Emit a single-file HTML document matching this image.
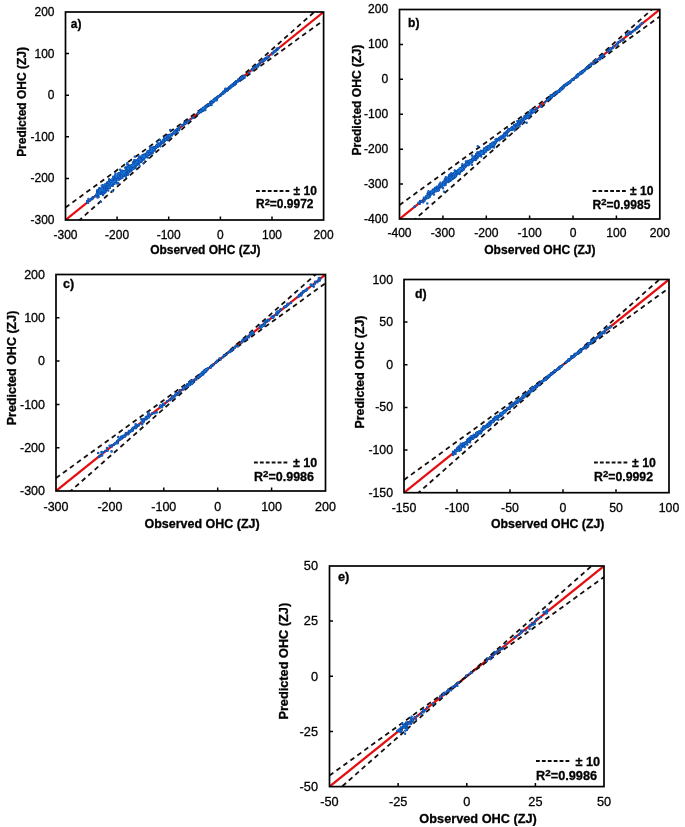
<!DOCTYPE html><html><head><meta charset="utf-8"><title>OHC predicted vs observed</title>
<style>html,body{margin:0;padding:0;background:#fff}body{width:685px;height:827px;overflow:hidden}svg{display:block}text{font-family:"Liberation Sans", sans-serif;fill:#000;stroke:#000;stroke-width:.3px}.b,.l{font-weight:bold}</style></head><body>
<svg width="685" height="827" viewBox="0 0 685 827">
<defs><filter id="soft" x="0" y="0" width="100%" height="100%" filterUnits="userSpaceOnUse"><feGaussianBlur stdDeviation="0.45"/></filter></defs>
<rect width="685" height="827" fill="#fff"/>
<g filter="url(#soft)">
<g id="panel-a">
<clipPath id="ca"><rect x="65.5" y="12" width="258.1" height="208"/></clipPath>
<g clip-path="url(#ca)">
<line x1="65.5" y1="220" x2="323.6" y2="12" stroke="#e50a0e" stroke-width="2.2"/>
<line x1="65.5" y1="207.5" x2="323.6" y2="20.3" stroke="#16100c" stroke-width="1.8" stroke-dasharray="4.8 3.8"/>
<line x1="65.5" y1="232.5" x2="323.6" y2="3.7" stroke="#16100c" stroke-width="1.8" stroke-dasharray="4.8 3.8"/>
<path d="M122.3 172.7h0M136 163.4h0M150.9 151h0M115.8 176.6h0M139.8 161.3h0M109 187.6h0M185.7 121.7h0M145.7 156.2h0M175.2 132.2h0M114 179.7h0M150.5 152.6h0M252.9 68.7h0M113.3 184.1h0M154.9 150.5h0M276.8 48.8h0M157.5 146.9h0M104.7 188.3h0M132.9 162.6h0M102.9 185.1h0M146.5 154.9h0M151.8 153.6h0M106.2 186.8h0M211.7 102.4h0M157.5 142.3h0M103 192.7h0M139.7 160.2h0M167.2 138.5h0M103 191.2h0M101.7 191.8h0M101.5 190.3h0M120.6 176.1h0M128.3 168.5h0M128.9 170.6h0M198.9 112.2h0M121.6 177.8h0M236.8 82h0M104.8 192.4h0M205 107.6h0M203 109.4h0M275.9 50.3h0M136.9 162.8h0M237.2 81.3h0M87.3 202h0M97 191.3h0M142.2 157.2h0M108.9 182.9h0M258.5 65.1h0M112.6 182.8h0M133.6 164h0M161 142.2h0M162.9 142.3h0M232.3 86h0M223.5 92.2h0M118.8 176.9h0M215 100h0M152.8 153.1h0M184.7 123.1h0M126.3 171h0M199.5 111.6h0M224.4 91.8h0M244.5 77.8h0M97.5 197.4h0M214.7 99.4h0M125 167.6h0M177.8 129.4h0M128.5 164.9h0M216.9 97.2h0M107.8 186.4h0M167 138.7h0M107.1 182.7h0M141.2 157.2h0M233.4 84.9h0M239.4 80.5h0M198.4 112.4h0M225.5 91h0M118.7 174h0M141.2 161.7h0M164.3 140.8h0M139.8 160.4h0M105.2 188.7h0M103.5 187.9h0M138.2 160.1h0M262.6 61.3h0M207.7 105.6h0M234.6 84.7h0M179.3 128.6h0M200.3 110.5h0M130.7 166.1h0M204.7 107.7h0M96.7 195h0M172 134.1h0M146.7 155.4h0M234 84.1h0M115.7 181.8h0M149.5 151.3h0M177.3 128.8h0M137.9 163.1h0M129.1 165.9h0M142.5 160.1h0M241.8 78.1h0M241 79.2h0M112.8 180.3h0M121.1 173.6h0M200.5 110.9h0M125.9 177.2h0M146.3 154.2h0M204.6 107.1h0M124.1 175.9h0M131.6 167.9h0M224.2 91.8h0M203.4 109.8h0M224.9 91.3h0M102.8 191.6h0M168.2 137.7h0M166.5 136.5h0M96.5 195.9h0M150.2 150.3h0M213.1 102.3h0M102.9 185.8h0M147.4 154.1h0M114.5 183.7h0M133.4 165.8h0M203 110.5h0M88.4 199h0M209.2 104.6h0M111.8 183h0M161.6 143.2h0M147.2 154.3h0M105.7 188.3h0M162.7 140.6h0M167.7 138.3h0M211.7 102h0M152.2 152.3h0M102.1 189.5h0M150.4 152.1h0M119.8 175.8h0M167 138.5h0M135.1 164.7h0M104.5 189.9h0M99 189.8h0M113.9 182.5h0M148.6 151.7h0M232.3 85.6h0M230 87.6h0M109.3 185h0M210 105h0M107.6 186.1h0M101.7 185.6h0M242.8 78.3h0M200.8 110.6h0M135.8 166.8h0M266.1 58.2h0M144.3 157.1h0M147.5 153.5h0M268.8 56.8h0M98.2 194.2h0M114 180.9h0M141.1 157.9h0M163.5 139.8h0M221.2 95h0M166.8 136.4h0M151.3 153.3h0M206.9 106.3h0M137.5 163.7h0M208.2 105.3h0M220.9 95.6h0M198.6 113.2h0M273.3 52.9h0M131 166.7h0M179 128.6h0M144.1 156.4h0M200.7 112h0M115.6 179.1h0M123 173.1h0M98.3 194.9h0M135.2 168.1h0M258.1 66.5h0M213 100.9h0M145.1 155.8h0M129.5 171.7h0M265.8 58.3h0M140.3 158.8h0M238.2 79.6h0M211.9 101.7h0M107.2 186.3h0M272.7 53h0M127.5 173.4h0M230.7 87h0M135 161.6h0M122.5 174.1h0M235.8 83.5h0M113.2 181.6h0M144.8 156.3h0M178.8 129.1h0M126.4 175.1h0M163.5 140h0M225.3 90.3h0M123.1 173h0M127.4 169.8h0M182 124.9h0M98.1 194.1h0M229.6 86.8h0M213.7 101.7h0M151.3 149.9h0M217 97.7h0M147.6 154.6h0M134.5 166h0M266.7 58.7h0M235.2 82.3h0M214.1 99.9h0M108 187.6h0M167.5 140.1h0M110.8 185.3h0" stroke="#0a45a6" stroke-width="2.4" stroke-linecap="round" fill="none"/>
<path d="M122.3 172.7h0M136 163.4h0M150.9 151h0M115.8 176.6h0M139.8 161.3h0M109 187.6h0M185.7 121.7h0M145.7 156.2h0M175.2 132.2h0M114 179.7h0M150.5 152.6h0M252.9 68.7h0M113.3 184.1h0M154.9 150.5h0M276.8 48.8h0M157.5 146.9h0M104.7 188.3h0M132.9 162.6h0M102.9 185.1h0M146.5 154.9h0M151.8 153.6h0M106.2 186.8h0M211.7 102.4h0M157.5 142.3h0M103 192.7h0M139.7 160.2h0M167.2 138.5h0M103 191.2h0M101.7 191.8h0M101.5 190.3h0M120.6 176.1h0M128.3 168.5h0M128.9 170.6h0M198.9 112.2h0M121.6 177.8h0M236.8 82h0M104.8 192.4h0M205 107.6h0M203 109.4h0M275.9 50.3h0M136.9 162.8h0M237.2 81.3h0M87.3 202h0M97 191.3h0M142.2 157.2h0M108.9 182.9h0M258.5 65.1h0M112.6 182.8h0M133.6 164h0M161 142.2h0M162.9 142.3h0M232.3 86h0M223.5 92.2h0M118.8 176.9h0M215 100h0M152.8 153.1h0M184.7 123.1h0M126.3 171h0M199.5 111.6h0M224.4 91.8h0M244.5 77.8h0M97.5 197.4h0M214.7 99.4h0M125 167.6h0M177.8 129.4h0M128.5 164.9h0M216.9 97.2h0M107.8 186.4h0M167 138.7h0M107.1 182.7h0M141.2 157.2h0M233.4 84.9h0M239.4 80.5h0M198.4 112.4h0M225.5 91h0M118.7 174h0M141.2 161.7h0M164.3 140.8h0M139.8 160.4h0M105.2 188.7h0M103.5 187.9h0M138.2 160.1h0M262.6 61.3h0M207.7 105.6h0M234.6 84.7h0M179.3 128.6h0M200.3 110.5h0M130.7 166.1h0M204.7 107.7h0M96.7 195h0M172 134.1h0M146.7 155.4h0M234 84.1h0M115.7 181.8h0M149.5 151.3h0M177.3 128.8h0M137.9 163.1h0M129.1 165.9h0M142.5 160.1h0M241.8 78.1h0M241 79.2h0M112.8 180.3h0M121.1 173.6h0M200.5 110.9h0M125.9 177.2h0M146.3 154.2h0M204.6 107.1h0M124.1 175.9h0M131.6 167.9h0M224.2 91.8h0M203.4 109.8h0M224.9 91.3h0M102.8 191.6h0M168.2 137.7h0M166.5 136.5h0M96.5 195.9h0M150.2 150.3h0M213.1 102.3h0M102.9 185.8h0M147.4 154.1h0M114.5 183.7h0M133.4 165.8h0M203 110.5h0M88.4 199h0M209.2 104.6h0M111.8 183h0M161.6 143.2h0M147.2 154.3h0M105.7 188.3h0M162.7 140.6h0M167.7 138.3h0M211.7 102h0M152.2 152.3h0M102.1 189.5h0M150.4 152.1h0M119.8 175.8h0M167 138.5h0M135.1 164.7h0M104.5 189.9h0M99 189.8h0M113.9 182.5h0M148.6 151.7h0M232.3 85.6h0M230 87.6h0M109.3 185h0M210 105h0M107.6 186.1h0M101.7 185.6h0M242.8 78.3h0M200.8 110.6h0M135.8 166.8h0M266.1 58.2h0M144.3 157.1h0M147.5 153.5h0M268.8 56.8h0M98.2 194.2h0M114 180.9h0M141.1 157.9h0M163.5 139.8h0M221.2 95h0M166.8 136.4h0M151.3 153.3h0M206.9 106.3h0M137.5 163.7h0M208.2 105.3h0M220.9 95.6h0M198.6 113.2h0M273.3 52.9h0M131 166.7h0M179 128.6h0M144.1 156.4h0M200.7 112h0M115.6 179.1h0M123 173.1h0M98.3 194.9h0M135.2 168.1h0M258.1 66.5h0M213 100.9h0M145.1 155.8h0M129.5 171.7h0M265.8 58.3h0M140.3 158.8h0M238.2 79.6h0M211.9 101.7h0M107.2 186.3h0M272.7 53h0M127.5 173.4h0M230.7 87h0M135 161.6h0M122.5 174.1h0M235.8 83.5h0M113.2 181.6h0M144.8 156.3h0M178.8 129.1h0M126.4 175.1h0M163.5 140h0M225.3 90.3h0M123.1 173h0M127.4 169.8h0M182 124.9h0M98.1 194.1h0M229.6 86.8h0M213.7 101.7h0M151.3 149.9h0M217 97.7h0M147.6 154.6h0M134.5 166h0M266.7 58.7h0M235.2 82.3h0M214.1 99.9h0M108 187.6h0M167.5 140.1h0M110.8 185.3h0" stroke="#1678d8" stroke-width="1.5" stroke-linecap="round" fill="none"/>
<path d="M103.2 188.6h0M103.6 190.1h0M139.2 159.6h0M113.8 178.3h0M105.4 191.6h0M152.5 150.5h0M244.1 76h0M123.9 174h0M99.2 188.3h0M274.8 51h0M148.1 152.9h0M109.3 180.8h0M232.8 85.8h0M171.1 134.7h0M115.6 180.4h0M211.6 103h0M244.3 75.9h0M140.2 161.5h0M228.9 88h0M210.9 101.7h0M113.4 179.8h0M128.2 172.2h0M115.7 176.2h0M156.5 146.6h0M220.6 95.1h0M96.9 194.2h0M126.7 170.7h0M205.6 107.8h0M272 53.6h0M119.6 175.8h0M174.3 133.2h0M132.2 169.2h0M143.7 156.8h0M111.2 183.8h0M139.6 160.6h0M160.9 143.5h0M235.3 83.8h0M117.7 177.6h0M225.7 90.1h0M140.6 160.1h0M122.9 174.5h0M164.9 139.1h0M123.9 173.8h0M106.3 184.3h0M105.6 184.7h0M243.3 75.7h0M171.5 135.1h0M255.6 66.2h0M201.4 110.8h0M102.8 190.3h0M265.6 57.9h0M100.7 201.9h0M155.6 146.8h0M179.1 129.2h0M104.3 189.1h0M107.5 185h0M147.3 154.7h0M216.1 97.9h0M118.8 178.3h0M200.2 111.9h0M144.1 159.5h0M103 187.2h0M233.9 84.7h0M99.2 191.7h0M102.6 190h0M104.2 191.2h0M204.7 108h0M131.7 167.7h0M227.2 88.7h0M138.2 162.4h0M138 163.9h0M167.3 139.1h0M203.3 107.9h0M109.8 182.4h0M131.5 166.3h0M129 167.7h0M149.5 152.2h0M160.4 146.3h0M277.7 49.6h0M144.1 157.5h0M197.9 113.3h0M170.2 134.7h0M199.8 112h0M130 166.7h0M155.9 147.8h0M103 189.9h0M184.4 124.4h0M120 175.9h0M157.1 145.5h0M132.3 166.2h0M128.5 170.1h0M202.2 109.9h0M126.4 173.3h0M165.1 139h0M121.4 174h0M262.8 61.4h0M118.2 182.9h0M132 167.6h0M150.1 153h0M263.6 60.2h0M106 187.3h0M114.7 180.1h0M209.6 104.7h0M226 91h0M106.7 189.4h0M141.8 157.1h0M131.3 167h0M240.3 79.5h0M177.1 132.4h0M104.4 188.4h0M139.8 160.6h0M186.6 122.5h0M214 99.6h0M103 189h0M95.1 196.2h0M122.5 170.8h0M140.4 158.6h0M238.7 80.9h0M163.2 140.9h0M136.8 161.6h0M115.9 180.1h0M227.5 90.2h0M216.4 98.8h0M139.6 165.9h0M210.1 102.1h0M108 185.7h0M143.9 163.1h0M182.7 125.4h0M258.5 65.1h0M213.6 100.9h0M134.6 166.6h0M110.8 183.2h0M106.8 187.9h0M148 153.8h0M119.3 173.7h0M217.8 97h0M107.7 185.9h0M167.5 137.8h0M161.7 143.2h0M249.3 72.6h0M103.4 192.4h0M105.7 189.1h0M229.4 87.1h0M156.2 145.6h0M177 131.2h0M154.9 147h0M104 192.8h0M224.1 92.1h0M263.5 61.3h0M241.7 79.1h0M109.7 188.1h0M134.4 167.2h0M238.6 79.5h0M168.4 135.8h0M108.5 182.2h0M153.4 148h0M135.3 162.9h0M106.9 184.3h0M205.5 107.7h0M113.3 176.8h0M175.9 131.4h0M98.5 191.7h0M134.8 162.1h0M105.8 186.5h0M142.3 157.2h0M115.5 179h0M116.2 181.8h0M108 188.5h0M133.4 167.8h0M92.8 197.3h0M257.9 65.1h0M151.5 148.8h0M121.9 175.8h0M142.3 157.1h0M99.3 189.8h0M264.4 60.5h0M103.3 187.4h0M126 167.4h0M112.8 184.8h0M128.6 168.2h0M259.3 63.5h0M91.9 199.2h0M107.2 189.9h0M205.6 107.4h0M265.3 58.6h0M118.8 173.1h0M131.5 165.5h0M188.3 121.3h0M152.3 151.1h0M222.2 93.6h0M103.2 191.6h0M112.6 181h0M148.5 153.8h0M147.4 153.9h0M112.5 185.8h0M201.6 109.6h0M145.7 155.9h0M134.3 165.3h0M214.7 99.7h0M118.5 178.5h0M116.9 179.1h0M127.4 168.5h0M158.3 145.3h0M113.1 179.7h0M258.6 64.3h0M110.9 184.8h0M251.9 69.3h0M122.4 177.8h0M115.2 177.6h0M224.3 91.9h0M210.5 103.6h0M218.3 96.8h0M225.7 91h0" stroke="#0a45a6" stroke-width="2.4" stroke-linecap="round" fill="none"/>
<path d="M103.2 188.6h0M103.6 190.1h0M139.2 159.6h0M113.8 178.3h0M105.4 191.6h0M152.5 150.5h0M244.1 76h0M123.9 174h0M99.2 188.3h0M274.8 51h0M148.1 152.9h0M109.3 180.8h0M232.8 85.8h0M171.1 134.7h0M115.6 180.4h0M211.6 103h0M244.3 75.9h0M140.2 161.5h0M228.9 88h0M210.9 101.7h0M113.4 179.8h0M128.2 172.2h0M115.7 176.2h0M156.5 146.6h0M220.6 95.1h0M96.9 194.2h0M126.7 170.7h0M205.6 107.8h0M272 53.6h0M119.6 175.8h0M174.3 133.2h0M132.2 169.2h0M143.7 156.8h0M111.2 183.8h0M139.6 160.6h0M160.9 143.5h0M235.3 83.8h0M117.7 177.6h0M225.7 90.1h0M140.6 160.1h0M122.9 174.5h0M164.9 139.1h0M123.9 173.8h0M106.3 184.3h0M105.6 184.7h0M243.3 75.7h0M171.5 135.1h0M255.6 66.2h0M201.4 110.8h0M102.8 190.3h0M265.6 57.9h0M100.7 201.9h0M155.6 146.8h0M179.1 129.2h0M104.3 189.1h0M107.5 185h0M147.3 154.7h0M216.1 97.9h0M118.8 178.3h0M200.2 111.9h0M144.1 159.5h0M103 187.2h0M233.9 84.7h0M99.2 191.7h0M102.6 190h0M104.2 191.2h0M204.7 108h0M131.7 167.7h0M227.2 88.7h0M138.2 162.4h0M138 163.9h0M167.3 139.1h0M203.3 107.9h0M109.8 182.4h0M131.5 166.3h0M129 167.7h0M149.5 152.2h0M160.4 146.3h0M277.7 49.6h0M144.1 157.5h0M197.9 113.3h0M170.2 134.7h0M199.8 112h0M130 166.7h0M155.9 147.8h0M103 189.9h0M184.4 124.4h0M120 175.9h0M157.1 145.5h0M132.3 166.2h0M128.5 170.1h0M202.2 109.9h0M126.4 173.3h0M165.1 139h0M121.4 174h0M262.8 61.4h0M118.2 182.9h0M132 167.6h0M150.1 153h0M263.6 60.2h0M106 187.3h0M114.7 180.1h0M209.6 104.7h0M226 91h0M106.7 189.4h0M141.8 157.1h0M131.3 167h0M240.3 79.5h0M177.1 132.4h0M104.4 188.4h0M139.8 160.6h0M186.6 122.5h0M214 99.6h0M103 189h0M95.1 196.2h0M122.5 170.8h0M140.4 158.6h0M238.7 80.9h0M163.2 140.9h0M136.8 161.6h0M115.9 180.1h0M227.5 90.2h0M216.4 98.8h0M139.6 165.9h0M210.1 102.1h0M108 185.7h0M143.9 163.1h0M182.7 125.4h0M258.5 65.1h0M213.6 100.9h0M134.6 166.6h0M110.8 183.2h0M106.8 187.9h0M148 153.8h0M119.3 173.7h0M217.8 97h0M107.7 185.9h0M167.5 137.8h0M161.7 143.2h0M249.3 72.6h0M103.4 192.4h0M105.7 189.1h0M229.4 87.1h0M156.2 145.6h0M177 131.2h0M154.9 147h0M104 192.8h0M224.1 92.1h0M263.5 61.3h0M241.7 79.1h0M109.7 188.1h0M134.4 167.2h0M238.6 79.5h0M168.4 135.8h0M108.5 182.2h0M153.4 148h0M135.3 162.9h0M106.9 184.3h0M205.5 107.7h0M113.3 176.8h0M175.9 131.4h0M98.5 191.7h0M134.8 162.1h0M105.8 186.5h0M142.3 157.2h0M115.5 179h0M116.2 181.8h0M108 188.5h0M133.4 167.8h0M92.8 197.3h0M257.9 65.1h0M151.5 148.8h0M121.9 175.8h0M142.3 157.1h0M99.3 189.8h0M264.4 60.5h0M103.3 187.4h0M126 167.4h0M112.8 184.8h0M128.6 168.2h0M259.3 63.5h0M91.9 199.2h0M107.2 189.9h0M205.6 107.4h0M265.3 58.6h0M118.8 173.1h0M131.5 165.5h0M188.3 121.3h0M152.3 151.1h0M222.2 93.6h0M103.2 191.6h0M112.6 181h0M148.5 153.8h0M147.4 153.9h0M112.5 185.8h0M201.6 109.6h0M145.7 155.9h0M134.3 165.3h0M214.7 99.7h0M118.5 178.5h0M116.9 179.1h0M127.4 168.5h0M158.3 145.3h0M113.1 179.7h0M258.6 64.3h0M110.9 184.8h0M251.9 69.3h0M122.4 177.8h0M115.2 177.6h0M224.3 91.9h0M210.5 103.6h0M218.3 96.8h0M225.7 91h0" stroke="#1678d8" stroke-width="1.5" stroke-linecap="round" fill="none"/>
<path d="M252.9 68.6h0M211 103.4h0M146 155.4h0M168.7 137.4h0M100.6 188.8h0M217.8 96.5h0M123.9 172.9h0M149 152.6h0M213.6 100.7h0M115.3 175.4h0M133.4 162.2h0M122.3 174.6h0M144.4 155.3h0M126.2 171.2h0M134.5 168.1h0M145.1 156.7h0M148.8 153.7h0M166.5 138.5h0M100.5 192.7h0M118.7 174h0M114.8 178.6h0M212.9 101h0M185.3 122.8h0M230 88.2h0M106 190.6h0M151.2 149.5h0M105.2 191.3h0M145.3 156.9h0M236.2 81.3h0M115.7 179.3h0M261.9 62h0M149.9 149.2h0M157.2 146.1h0M100 189.8h0M150.5 147h0M230.1 86.7h0M137.2 164.4h0M112.1 181.3h0M130.7 168.8h0M124.3 173.5h0M157.8 146.4h0M153.2 150.2h0M114.1 180.7h0M223.2 93.7h0M105.2 189.8h0M125.5 173.7h0M212.9 101.1h0M131.4 168.4h0M120.6 172.6h0M174.8 131.2h0M104.7 192.4h0M217.9 97.2h0M122.2 175.7h0M128 167.7h0M112.6 182.2h0M253.3 68.7h0M159.9 140h0M142.7 155.3h0M214.6 98.7h0M210.5 103.8h0M179 130.2h0M128.1 169.7h0M103.1 195h0M123.5 174.7h0M130.8 165.7h0M151.5 150.6h0M131.1 168.2h0M147.8 153.9h0M134 163.1h0M212.8 101.1h0M238.5 80.6h0M224 91.6h0M219.2 96h0M134.9 162.7h0M103.7 189.9h0M104.7 186.4h0M149.5 154.7h0M241.7 77.3h0M104.8 189.3h0M126.3 172.7h0M207.5 104.9h0M134.7 166.1h0M103.2 190.8h0M176.6 130.1h0M149.1 154.3h0M160.8 144.2h0M152.1 148.7h0M155.9 148.1h0M127.8 166.1h0M137.8 162h0M129.1 170.6h0M140.8 159.9h0M213 101.5h0M262.7 61.2h0M109.8 183.8h0M140.9 159h0M123.1 172.6h0M168.6 137.9h0M121.5 175.8h0M146.3 155h0M136.3 162h0M103 192.6h0M117 179.2h0M107.5 185.3h0M234.1 84.4h0M126.6 168.3h0M272.3 53.4h0M139.3 159.7h0M192.9 118.1h0M127.3 164.5h0M126.7 168.6h0M161.6 142.4h0M199.9 110.9h0M137.1 163.2h0M118.3 175.6h0M227.4 90.3h0M147.4 155.8h0M119.8 178.8h0M169.6 137h0M154.7 149.9h0M164 142.1h0M199 112.7h0M139.2 163.6h0M257.2 66h0M135.8 163.5h0M265.5 58.9h0M160 143.5h0M114.4 179.7h0M255.4 66.8h0M118.2 176.7h0M109.5 184.5h0M104.9 191.3h0M277.1 49.1h0M208.8 105.3h0M217 98h0M127.5 170h0M231.8 85.5h0M109.8 180.7h0M205.6 107.6h0M172.1 135.3h0M189.7 119.7h0M107.6 184.5h0M233.3 84.4h0M148.1 154.2h0M126.8 171.7h0M112.4 181.6h0M225.3 88.8h0M87.2 201h0M108.3 190.6h0M137.2 162.2h0M151.4 152.3h0M256.6 65.6h0M199.5 112.3h0M176.7 130.9h0M223.5 92.2h0M234.1 84h0M198 113.8h0M210.9 103.9h0M232.6 84.5h0M244 77.5h0M228 89.5h0M134.2 160.2h0M110 183h0M107.1 186.3h0M150.4 151.3h0M199 112.7h0M133.1 168.7h0M130.6 167.1h0M200.5 110.6h0M148 154.3h0M131.4 169.6h0M144.5 156.4h0M146.7 153.2h0M142.4 158.4h0M114.1 182.5h0M137.5 161.7h0M111.8 184.4h0M213.8 100.9h0M163.4 140.6h0M135.7 160.6h0M178.9 128.7h0M152.7 148.8h0M148.3 153h0M231.3 87.2h0M141.7 160.9h0M108.2 183.8h0M210 103.5h0M97.6 191.2h0M105.2 188.9h0M167.6 135.3h0M106.9 189.4h0M107.8 187h0M150.3 154.3h0M259.5 64h0M97.8 194.2h0M220.5 94.7h0M128.5 172.4h0M173.9 132.8h0M136.9 164.7h0M110.8 182.9h0M162.7 142.1h0M110.5 183.7h0M151.1 149.5h0M100.6 190.4h0M108.8 186h0M103.8 188.3h0M127.5 169.1h0M110.4 185.4h0M106 189.2h0M229.5 88.3h0M135.1 165.9h0M116 176.9h0M124.7 173.9h0" stroke="#0a45a6" stroke-width="2.4" stroke-linecap="round" fill="none"/>
<path d="M252.9 68.6h0M211 103.4h0M146 155.4h0M168.7 137.4h0M100.6 188.8h0M217.8 96.5h0M123.9 172.9h0M149 152.6h0M213.6 100.7h0M115.3 175.4h0M133.4 162.2h0M122.3 174.6h0M144.4 155.3h0M126.2 171.2h0M134.5 168.1h0M145.1 156.7h0M148.8 153.7h0M166.5 138.5h0M100.5 192.7h0M118.7 174h0M114.8 178.6h0M212.9 101h0M185.3 122.8h0M230 88.2h0M106 190.6h0M151.2 149.5h0M105.2 191.3h0M145.3 156.9h0M236.2 81.3h0M115.7 179.3h0M261.9 62h0M149.9 149.2h0M157.2 146.1h0M100 189.8h0M150.5 147h0M230.1 86.7h0M137.2 164.4h0M112.1 181.3h0M130.7 168.8h0M124.3 173.5h0M157.8 146.4h0M153.2 150.2h0M114.1 180.7h0M223.2 93.7h0M105.2 189.8h0M125.5 173.7h0M212.9 101.1h0M131.4 168.4h0M120.6 172.6h0M174.8 131.2h0M104.7 192.4h0M217.9 97.2h0M122.2 175.7h0M128 167.7h0M112.6 182.2h0M253.3 68.7h0M159.9 140h0M142.7 155.3h0M214.6 98.7h0M210.5 103.8h0M179 130.2h0M128.1 169.7h0M103.1 195h0M123.5 174.7h0M130.8 165.7h0M151.5 150.6h0M131.1 168.2h0M147.8 153.9h0M134 163.1h0M212.8 101.1h0M238.5 80.6h0M224 91.6h0M219.2 96h0M134.9 162.7h0M103.7 189.9h0M104.7 186.4h0M149.5 154.7h0M241.7 77.3h0M104.8 189.3h0M126.3 172.7h0M207.5 104.9h0M134.7 166.1h0M103.2 190.8h0M176.6 130.1h0M149.1 154.3h0M160.8 144.2h0M152.1 148.7h0M155.9 148.1h0M127.8 166.1h0M137.8 162h0M129.1 170.6h0M140.8 159.9h0M213 101.5h0M262.7 61.2h0M109.8 183.8h0M140.9 159h0M123.1 172.6h0M168.6 137.9h0M121.5 175.8h0M146.3 155h0M136.3 162h0M103 192.6h0M117 179.2h0M107.5 185.3h0M234.1 84.4h0M126.6 168.3h0M272.3 53.4h0M139.3 159.7h0M192.9 118.1h0M127.3 164.5h0M126.7 168.6h0M161.6 142.4h0M199.9 110.9h0M137.1 163.2h0M118.3 175.6h0M227.4 90.3h0M147.4 155.8h0M119.8 178.8h0M169.6 137h0M154.7 149.9h0M164 142.1h0M199 112.7h0M139.2 163.6h0M257.2 66h0M135.8 163.5h0M265.5 58.9h0M160 143.5h0M114.4 179.7h0M255.4 66.8h0M118.2 176.7h0M109.5 184.5h0M104.9 191.3h0M277.1 49.1h0M208.8 105.3h0M217 98h0M127.5 170h0M231.8 85.5h0M109.8 180.7h0M205.6 107.6h0M172.1 135.3h0M189.7 119.7h0M107.6 184.5h0M233.3 84.4h0M148.1 154.2h0M126.8 171.7h0M112.4 181.6h0M225.3 88.8h0M87.2 201h0M108.3 190.6h0M137.2 162.2h0M151.4 152.3h0M256.6 65.6h0M199.5 112.3h0M176.7 130.9h0M223.5 92.2h0M234.1 84h0M198 113.8h0M210.9 103.9h0M232.6 84.5h0M244 77.5h0M228 89.5h0M134.2 160.2h0M110 183h0M107.1 186.3h0M150.4 151.3h0M199 112.7h0M133.1 168.7h0M130.6 167.1h0M200.5 110.6h0M148 154.3h0M131.4 169.6h0M144.5 156.4h0M146.7 153.2h0M142.4 158.4h0M114.1 182.5h0M137.5 161.7h0M111.8 184.4h0M213.8 100.9h0M163.4 140.6h0M135.7 160.6h0M178.9 128.7h0M152.7 148.8h0M148.3 153h0M231.3 87.2h0M141.7 160.9h0M108.2 183.8h0M210 103.5h0M97.6 191.2h0M105.2 188.9h0M167.6 135.3h0M106.9 189.4h0M107.8 187h0M150.3 154.3h0M259.5 64h0M97.8 194.2h0M220.5 94.7h0M128.5 172.4h0M173.9 132.8h0M136.9 164.7h0M110.8 182.9h0M162.7 142.1h0M110.5 183.7h0M151.1 149.5h0M100.6 190.4h0M108.8 186h0M103.8 188.3h0M127.5 169.1h0M110.4 185.4h0M106 189.2h0M229.5 88.3h0M135.1 165.9h0M116 176.9h0M124.7 173.9h0" stroke="#1678d8" stroke-width="1.5" stroke-linecap="round" fill="none"/>
<path d="M138.4 158.8h0M267.9 57.6h0M233.2 83.9h0M153.4 150.1h0M223.4 91.7h0M135.8 163h0M110 180.2h0M192.7 117.8h0M170.2 137.3h0M243.2 76.1h0M153.6 148.6h0M140.4 161.1h0M200.5 111.6h0M119.2 179.1h0M148.4 152.8h0M232.1 84.9h0M277.8 48.6h0M154.7 149.6h0M122.7 174.7h0M207.8 104.7h0M108 182.3h0M134.9 163.2h0M128.8 169.8h0M236.7 81.2h0M115.6 173.5h0M102.8 191.6h0M92.9 198.4h0M107.3 184.7h0M136.5 164.1h0M126.3 171.8h0M163.7 140.3h0M119.4 177.3h0M125.3 174.7h0M132.3 165h0M142.6 158.1h0M237.4 81h0M148 153.6h0M232.1 86h0M132.2 169.5h0M205 107.8h0M112.2 181.9h0M234.1 85.1h0M105.9 191.4h0M162.7 142.1h0M135 165.1h0M173.1 133.2h0M175.9 131.3h0M175.7 130.3h0M216.4 99h0M272.5 52.9h0M208.7 104.6h0M110.5 182.7h0M103.2 190.6h0M136 164.3h0M241.1 78.5h0M201.2 110.4h0M88.1 202.8h0M167.7 136.1h0M223.4 91.8h0M137 162.8h0M216.9 97.6h0M146.4 153.6h0M174.3 132.7h0M108.2 186.1h0M235.9 82.9h0M225.9 89.9h0M148.4 151.7h0M139.7 159.6h0M103.3 190.5h0M159.8 144.1h0M206.5 105.8h0M115.5 178.6h0M165.2 139.5h0M109.2 183.7h0M112.6 191.3h0M120.2 169.8h0M208.3 104.4h0M117.1 183.6h0M138.9 156.5h0M179.3 127.2h0M123 171.9h0M156.5 146.3h0M211.9 102h0M143 158.6h0M128.3 168.3h0M110.1 186.2h0M211.3 101.8h0M136.2 160.5h0M209.7 104.3h0M124.2 174.5h0M241.3 78.5h0M122.9 172.4h0M206.4 106.9h0M128 170h0M218.5 96.6h0M101 193.9h0M103.7 187.4h0M119.1 176.3h0M111.1 181.1h0M153.7 149.8h0M138.6 161h0M106.4 188.6h0M233.6 84.9h0M109.8 186.3h0M143.3 156.2h0M175.3 132.6h0M226 90.9h0M125.4 170.7h0M104.7 186.5h0M99.1 192.4h0M221.2 94.2h0M111.2 182.7h0M149.7 152.4h0M134.6 162.4h0M114.5 181.8h0M144.3 157.6h0M108.2 186.1h0M128.1 174.2h0M105.6 185h0M153.5 146.9h0M140.3 158.6h0M104.4 185.9h0M127.3 163.2h0M212.2 102h0M142.4 158.8h0M166.3 138.8h0M106 191.4h0M237.1 82h0M147.4 151.5h0M158.4 145.1h0M102.9 189.4h0M157.4 146.3h0M107.8 185.2h0M244.3 76.5h0M132 167.9h0M134.6 166.6h0M108.3 183.8h0M108 185.8h0M113.9 182.3h0M205 106.8h0M163.9 141.6h0M166.6 139.3h0M149.6 151.5h0M110.1 184.1h0M157.4 145.4h0M98 196.9h0M232.5 85.7h0M102.3 188.9h0M218 97.1h0M147.9 153.5h0M205.4 107.4h0M87.2 202.6h0M152.8 151.1h0M125.8 168.4h0M225.9 91h0M213.7 101h0M215.1 100h0M237.7 81.2h0M98.6 197h0M115.2 178.4h0M130.9 171.3h0M100.5 189.2h0M175.2 133.3h0M102.7 191.2h0M148.7 154.4h0M144.2 154.4h0M121 176.6h0M139.7 158.9h0M261.7 61.7h0M133.7 167.6h0M167.6 137.9h0M134.2 165.2h0M155.9 148h0M117.9 178.3h0M145.6 157.3h0M112.8 180.6h0M165.1 140.8h0M221.9 93.5h0M142.5 158.4h0M227.5 89.5h0M231.3 86.2h0M105.5 183.9h0M136.4 162.8h0M145.2 156.4h0M184.2 123.2h0M215.5 98.6h0M220.3 95.3h0M133.8 168.4h0M109.2 185.3h0M115.3 179.3h0M129.9 165.9h0M166.6 139.8h0M167.1 138.4h0M174.1 132.4h0M148.9 152h0M109.4 184.1h0M122.2 176.2h0M110.2 180.2h0M215.9 98.7h0M203 108.6h0M203.8 110.2h0M166.7 138.2h0M201.6 110.9h0M211.6 105.1h0M205.3 110h0M147.4 153.5h0M97.1 191.9h0M110.5 184.4h0M112 184.7h0M120.3 173.8h0M143.7 158h0M99.7 192.6h0M172.7 133.4h0" stroke="#0a45a6" stroke-width="2.4" stroke-linecap="round" fill="none"/>
<path d="M138.4 158.8h0M267.9 57.6h0M233.2 83.9h0M153.4 150.1h0M223.4 91.7h0M135.8 163h0M110 180.2h0M192.7 117.8h0M170.2 137.3h0M243.2 76.1h0M153.6 148.6h0M140.4 161.1h0M200.5 111.6h0M119.2 179.1h0M148.4 152.8h0M232.1 84.9h0M277.8 48.6h0M154.7 149.6h0M122.7 174.7h0M207.8 104.7h0M108 182.3h0M134.9 163.2h0M128.8 169.8h0M236.7 81.2h0M115.6 173.5h0M102.8 191.6h0M92.9 198.4h0M107.3 184.7h0M136.5 164.1h0M126.3 171.8h0M163.7 140.3h0M119.4 177.3h0M125.3 174.7h0M132.3 165h0M142.6 158.1h0M237.4 81h0M148 153.6h0M232.1 86h0M132.2 169.5h0M205 107.8h0M112.2 181.9h0M234.1 85.1h0M105.9 191.4h0M162.7 142.1h0M135 165.1h0M173.1 133.2h0M175.9 131.3h0M175.7 130.3h0M216.4 99h0M272.5 52.9h0M208.7 104.6h0M110.5 182.7h0M103.2 190.6h0M136 164.3h0M241.1 78.5h0M201.2 110.4h0M88.1 202.8h0M167.7 136.1h0M223.4 91.8h0M137 162.8h0M216.9 97.6h0M146.4 153.6h0M174.3 132.7h0M108.2 186.1h0M235.9 82.9h0M225.9 89.9h0M148.4 151.7h0M139.7 159.6h0M103.3 190.5h0M159.8 144.1h0M206.5 105.8h0M115.5 178.6h0M165.2 139.5h0M109.2 183.7h0M112.6 191.3h0M120.2 169.8h0M208.3 104.4h0M117.1 183.6h0M138.9 156.5h0M179.3 127.2h0M123 171.9h0M156.5 146.3h0M211.9 102h0M143 158.6h0M128.3 168.3h0M110.1 186.2h0M211.3 101.8h0M136.2 160.5h0M209.7 104.3h0M124.2 174.5h0M241.3 78.5h0M122.9 172.4h0M206.4 106.9h0M128 170h0M218.5 96.6h0M101 193.9h0M103.7 187.4h0M119.1 176.3h0M111.1 181.1h0M153.7 149.8h0M138.6 161h0M106.4 188.6h0M233.6 84.9h0M109.8 186.3h0M143.3 156.2h0M175.3 132.6h0M226 90.9h0M125.4 170.7h0M104.7 186.5h0M99.1 192.4h0M221.2 94.2h0M111.2 182.7h0M149.7 152.4h0M134.6 162.4h0M114.5 181.8h0M144.3 157.6h0M108.2 186.1h0M128.1 174.2h0M105.6 185h0M153.5 146.9h0M140.3 158.6h0M104.4 185.9h0M127.3 163.2h0M212.2 102h0M142.4 158.8h0M166.3 138.8h0M106 191.4h0M237.1 82h0M147.4 151.5h0M158.4 145.1h0M102.9 189.4h0M157.4 146.3h0M107.8 185.2h0M244.3 76.5h0M132 167.9h0M134.6 166.6h0M108.3 183.8h0M108 185.8h0M113.9 182.3h0M205 106.8h0M163.9 141.6h0M166.6 139.3h0M149.6 151.5h0M110.1 184.1h0M157.4 145.4h0M98 196.9h0M232.5 85.7h0M102.3 188.9h0M218 97.1h0M147.9 153.5h0M205.4 107.4h0M87.2 202.6h0M152.8 151.1h0M125.8 168.4h0M225.9 91h0M213.7 101h0M215.1 100h0M237.7 81.2h0M98.6 197h0M115.2 178.4h0M130.9 171.3h0M100.5 189.2h0M175.2 133.3h0M102.7 191.2h0M148.7 154.4h0M144.2 154.4h0M121 176.6h0M139.7 158.9h0M261.7 61.7h0M133.7 167.6h0M167.6 137.9h0M134.2 165.2h0M155.9 148h0M117.9 178.3h0M145.6 157.3h0M112.8 180.6h0M165.1 140.8h0M221.9 93.5h0M142.5 158.4h0M227.5 89.5h0M231.3 86.2h0M105.5 183.9h0M136.4 162.8h0M145.2 156.4h0M184.2 123.2h0M215.5 98.6h0M220.3 95.3h0M133.8 168.4h0M109.2 185.3h0M115.3 179.3h0M129.9 165.9h0M166.6 139.8h0M167.1 138.4h0M174.1 132.4h0M148.9 152h0M109.4 184.1h0M122.2 176.2h0M110.2 180.2h0M215.9 98.7h0M203 108.6h0M203.8 110.2h0M166.7 138.2h0M201.6 110.9h0M211.6 105.1h0M205.3 110h0M147.4 153.5h0M97.1 191.9h0M110.5 184.4h0M112 184.7h0M120.3 173.8h0M143.7 158h0M99.7 192.6h0M172.7 133.4h0" stroke="#1678d8" stroke-width="1.5" stroke-linecap="round" fill="none"/>
<path d="M220 95.2h0M102.4 189.6h0M122.6 173.9h0M98.4 194.1h0M108.2 187.9h0M181.9 125.6h0M202.9 108h0M111.2 184.7h0M256.4 67h0M97.3 190.3h0M237.4 81.9h0M113.7 182.3h0M151.4 149.6h0M278.7 47.9h0M101.5 188.5h0M165.1 139.5h0M139.8 159.5h0M175.4 131.9h0M162.9 141h0M223 93.9h0M108 187.2h0M263.1 59.5h0M123.2 172.9h0M162.7 142.9h0M152.3 151.8h0M168.9 135h0M109.8 187h0M126.9 170.3h0M272.3 54.2h0M121.3 177.6h0M137 161h0M217.3 98.1h0M113.8 182.9h0M131.5 165.8h0M106.3 189.6h0M99.5 194.1h0M133.5 165.4h0M164.1 137.7h0M148.7 151.3h0M187.5 121.9h0M121.7 173h0M242.2 78h0M121.7 173.5h0M152.1 150.9h0M240.8 78.7h0M118.5 175.7h0M130.7 166.9h0M103 190.8h0M133.1 165h0M133.1 166.7h0M96.9 193.8h0M223.2 92.4h0M144.1 155h0M115.2 181.3h0M237.8 81h0M136.5 162.1h0M209.6 104.8h0M121.3 172.2h0M144.8 156h0M231.6 84.9h0M128.5 172.2h0M227.1 90h0M101.2 190h0M110.6 181.5h0M204.3 108.7h0M240.8 78.2h0M136.8 164.7h0M137.3 162.5h0M175 132.2h0M100.7 189.9h0M134.7 156.6h0M143.5 157.1h0M121.1 171h0M100.1 191.3h0M115 180.5h0M107.8 182.2h0M163.7 141.4h0M215 99.5h0M138.8 159h0M121.2 178.3h0M143.8 157.1h0M142.9 156.7h0M140.5 160.2h0M242.4 77.7h0M142.1 155.8h0M142 156.3h0M141.5 156h0M139.2 160.1h0M137.7 162.7h0M111.8 181.4h0M99 190.8h0M252.3 70.3h0M267.8 56.4h0M216.8 100.2h0M202.8 109.5h0M92.3 197.9h0M133 166.6h0M144 156.3h0M202.8 109h0M232.9 85.5h0M114.8 181.5h0M127.4 168h0M123.4 175.3h0M108.1 186.3h0M116.3 177.5h0M153.8 147.8h0M113.4 177.6h0M110.3 186h0M262.8 60.9h0M113.3 182h0M176.6 129.7h0M96.6 194.4h0M144.2 156.8h0M265.5 59.4h0M150.8 151.3h0M128.9 168h0M212.5 100.6h0M103.9 186.1h0M121.1 175.4h0M124.6 173.1h0M118.8 179.8h0M104.4 187h0M89.8 200.7h0M139.1 162.1h0M166.6 139h0M150.3 151.4h0M202.7 108.3h0M121.6 176.3h0M224.9 92.2h0M158.2 145.6h0M129.1 166.2h0M174.4 131.8h0M110.2 185.4h0M90.8 198.9h0M167.8 138h0M193.1 117.8h0M165.3 139.9h0M150.2 151.2h0M119.8 173.7h0M118.4 175.5h0M104.1 187h0M124.2 171.7h0M274.1 51.4h0M214.7 100.4h0M118.3 173.6h0M169.1 136.2h0M144.5 157.4h0M170.3 130h0M216.8 97.9h0M234.2 83.4h0M204 108h0M116.6 175.9h0M211.5 102.5h0M215.4 99.1h0M230 87.9h0M151 148.7h0M111.4 183.4h0M103.4 193.7h0M115.2 175.4h0M137.2 161.5h0M157.8 144h0M206.7 105.8h0M112.1 183.2h0M132.8 165.4h0M96.5 194.5h0M117.9 176.3h0M140.5 160h0M142.5 156.2h0M112.7 185.7h0M158.7 145.9h0M169.7 135.8h0M202.9 109.7h0M274.2 52.1h0M99.5 190.3h0M116.1 176.1h0M185.4 123.8h0M102.1 187.8h0M124 172.2h0M112.4 179h0M109.8 183.2h0M130.9 168.5h0M135.4 162.8h0M202.4 109.7h0M149.6 153.3h0M152.1 148.6h0M108.7 182.5h0M124 172.1h0M104.1 191.2h0M156.5 145.5h0M114 182h0M173.8 132.8h0M128.2 168.4h0M124 171.3h0M128.1 172.3h0M151.7 150.1h0M135.4 164.6h0M213.4 100.6h0M254.2 67.1h0M117.6 179.3h0M127.7 174.7h0M102.8 189.6h0M134.1 163.9h0M156.6 147.2h0M125.5 171.8h0M140.6 161.1h0M109.7 187.5h0M267.4 57.4h0M148 157.6h0M115.8 176.4h0M275.6 51.4h0M109.1 179.1h0M158.1 145.6h0" stroke="#0a45a6" stroke-width="2.4" stroke-linecap="round" fill="none"/>
<path d="M220 95.2h0M102.4 189.6h0M122.6 173.9h0M98.4 194.1h0M108.2 187.9h0M181.9 125.6h0M202.9 108h0M111.2 184.7h0M256.4 67h0M97.3 190.3h0M237.4 81.9h0M113.7 182.3h0M151.4 149.6h0M278.7 47.9h0M101.5 188.5h0M165.1 139.5h0M139.8 159.5h0M175.4 131.9h0M162.9 141h0M223 93.9h0M108 187.2h0M263.1 59.5h0M123.2 172.9h0M162.7 142.9h0M152.3 151.8h0M168.9 135h0M109.8 187h0M126.9 170.3h0M272.3 54.2h0M121.3 177.6h0M137 161h0M217.3 98.1h0M113.8 182.9h0M131.5 165.8h0M106.3 189.6h0M99.5 194.1h0M133.5 165.4h0M164.1 137.7h0M148.7 151.3h0M187.5 121.9h0M121.7 173h0M242.2 78h0M121.7 173.5h0M152.1 150.9h0M240.8 78.7h0M118.5 175.7h0M130.7 166.9h0M103 190.8h0M133.1 165h0M133.1 166.7h0M96.9 193.8h0M223.2 92.4h0M144.1 155h0M115.2 181.3h0M237.8 81h0M136.5 162.1h0M209.6 104.8h0M121.3 172.2h0M144.8 156h0M231.6 84.9h0M128.5 172.2h0M227.1 90h0M101.2 190h0M110.6 181.5h0M204.3 108.7h0M240.8 78.2h0M136.8 164.7h0M137.3 162.5h0M175 132.2h0M100.7 189.9h0M134.7 156.6h0M143.5 157.1h0M121.1 171h0M100.1 191.3h0M115 180.5h0M107.8 182.2h0M163.7 141.4h0M215 99.5h0M138.8 159h0M121.2 178.3h0M143.8 157.1h0M142.9 156.7h0M140.5 160.2h0M242.4 77.7h0M142.1 155.8h0M142 156.3h0M141.5 156h0M139.2 160.1h0M137.7 162.7h0M111.8 181.4h0M99 190.8h0M252.3 70.3h0M267.8 56.4h0M216.8 100.2h0M202.8 109.5h0M92.3 197.9h0M133 166.6h0M144 156.3h0M202.8 109h0M232.9 85.5h0M114.8 181.5h0M127.4 168h0M123.4 175.3h0M108.1 186.3h0M116.3 177.5h0M153.8 147.8h0M113.4 177.6h0M110.3 186h0M262.8 60.9h0M113.3 182h0M176.6 129.7h0M96.6 194.4h0M144.2 156.8h0M265.5 59.4h0M150.8 151.3h0M128.9 168h0M212.5 100.6h0M103.9 186.1h0M121.1 175.4h0M124.6 173.1h0M118.8 179.8h0M104.4 187h0M89.8 200.7h0M139.1 162.1h0M166.6 139h0M150.3 151.4h0M202.7 108.3h0M121.6 176.3h0M224.9 92.2h0M158.2 145.6h0M129.1 166.2h0M174.4 131.8h0M110.2 185.4h0M90.8 198.9h0M167.8 138h0M193.1 117.8h0M165.3 139.9h0M150.2 151.2h0M119.8 173.7h0M118.4 175.5h0M104.1 187h0M124.2 171.7h0M274.1 51.4h0M214.7 100.4h0M118.3 173.6h0M169.1 136.2h0M144.5 157.4h0M170.3 130h0M216.8 97.9h0M234.2 83.4h0M204 108h0M116.6 175.9h0M211.5 102.5h0M215.4 99.1h0M230 87.9h0M151 148.7h0M111.4 183.4h0M103.4 193.7h0M115.2 175.4h0M137.2 161.5h0M157.8 144h0M206.7 105.8h0M112.1 183.2h0M132.8 165.4h0M96.5 194.5h0M117.9 176.3h0M140.5 160h0M142.5 156.2h0M112.7 185.7h0M158.7 145.9h0M169.7 135.8h0M202.9 109.7h0M274.2 52.1h0M99.5 190.3h0M116.1 176.1h0M185.4 123.8h0M102.1 187.8h0M124 172.2h0M112.4 179h0M109.8 183.2h0M130.9 168.5h0M135.4 162.8h0M202.4 109.7h0M149.6 153.3h0M152.1 148.6h0M108.7 182.5h0M124 172.1h0M104.1 191.2h0M156.5 145.5h0M114 182h0M173.8 132.8h0M128.2 168.4h0M124 171.3h0M128.1 172.3h0M151.7 150.1h0M135.4 164.6h0M213.4 100.6h0M254.2 67.1h0M117.6 179.3h0M127.7 174.7h0M102.8 189.6h0M134.1 163.9h0M156.6 147.2h0M125.5 171.8h0M140.6 161.1h0M109.7 187.5h0M267.4 57.4h0M148 157.6h0M115.8 176.4h0M275.6 51.4h0M109.1 179.1h0M158.1 145.6h0" stroke="#1678d8" stroke-width="1.5" stroke-linecap="round" fill="none"/>
</g>
<rect x="65.5" y="12" width="258.1" height="208" fill="none" stroke="#000" stroke-width="1.7"/>
<path d="M117.1 220v-3.5M168.7 220v-3.5M220.4 220v-3.5M272 220v-3.5M65.5 178.4h3.5M65.5 136.8h3.5M65.5 95.2h3.5M65.5 53.6h3.5" stroke="#000" stroke-width="1.5" fill="none"/>
<text class="t" font-size="11.98" x="65.5" y="238.6" text-anchor="middle">-300</text>
<text class="t" font-size="11.98" x="117.1" y="238.6" text-anchor="middle">-200</text>
<text class="t" font-size="11.98" x="168.7" y="238.6" text-anchor="middle">-100</text>
<text class="t" font-size="11.98" x="220.4" y="238.6" text-anchor="middle">0</text>
<text class="t" font-size="11.98" x="272" y="238.6" text-anchor="middle">100</text>
<text class="t" font-size="11.98" x="323.6" y="238.6" text-anchor="middle">200</text>
<text class="t" font-size="11.98" x="54.5" y="223.9" text-anchor="end">-300</text>
<text class="t" font-size="11.98" x="54.5" y="182.3" text-anchor="end">-200</text>
<text class="t" font-size="11.98" x="54.5" y="140.7" text-anchor="end">-100</text>
<text class="t" font-size="11.98" x="54.5" y="99.1" text-anchor="end">0</text>
<text class="t" font-size="11.98" x="54.5" y="57.5" text-anchor="end">100</text>
<text class="t" font-size="11.98" x="54.5" y="15.9" text-anchor="end">200</text>
<text class="b" font-size="11.98" x="205.4" y="254.2" text-anchor="middle">Observed OHC (ZJ)</text>
<text class="b" font-size="11.98" transform="translate(26.1 102) rotate(-90)" text-anchor="middle">Predicted OHC (ZJ)</text>
<text class="l" font-size="11.98" x="70.8" y="28.4">a)</text>
<line x1="256" y1="190.9" x2="290.6" y2="190.9" stroke="#111" stroke-width="2" stroke-dasharray="3.8 2.1"/>
<text class="b" font-size="11.98" x="293.6" y="195.2">± 10</text>
<text class="b" font-size="11.98" x="256" y="208.2">R<tspan font-size="9.35" dy="-3.6">2</tspan><tspan dy="3.6">=0.9972</tspan></text>
</g>
<g id="panel-b">
<clipPath id="cb"><rect x="399.5" y="9.5" width="260.3" height="209.5"/></clipPath>
<g clip-path="url(#cb)">
<line x1="399.5" y1="219" x2="659.8" y2="9.5" stroke="#e50a0e" stroke-width="2.2"/>
<line x1="399.5" y1="205" x2="659.8" y2="16.5" stroke="#16100c" stroke-width="1.8" stroke-dasharray="4.8 3.8"/>
<line x1="399.5" y1="233" x2="659.8" y2="2.5" stroke="#16100c" stroke-width="1.8" stroke-dasharray="4.8 3.8"/>
<path d="M486.4 150.2h0M558.2 91.7h0M451.4 179.7h0M572.2 79.8h0M565.1 85.6h0M589.8 65.3h0M476 157.4h0M431.6 194h0M476.4 158.8h0M590.6 65.1h0M563.3 86.7h0M483 151.5h0M477.7 146.2h0M457.3 173.2h0M531.8 113.2h0M434.3 190.3h0M448.8 177.5h0M455.4 172.7h0M463.6 167.4h0M621.9 39.7h0M507.6 135.7h0M463.5 165.6h0M450 178.9h0M566.5 83.9h0M487.6 146.4h0M482.5 152.9h0M586.4 69h0M541.3 106.7h0M491.3 144h0M466.1 163.7h0M447.7 180.1h0M466.6 164.5h0M493.6 142.8h0M569 82.1h0M529.1 115.4h0M490.2 144.6h0M519.6 126.2h0M518 123.5h0M433.3 192.3h0M459 173h0M560.6 88.8h0M435.3 189.3h0M480.5 153.3h0M489.2 146.8h0M594 61.5h0M576.8 76.5h0M465.4 166.5h0M450.8 176.6h0M549.7 98.3h0M488.2 149.4h0M572.8 79.8h0M619.4 41.9h0M555.2 93.9h0M617.7 42.4h0M502.8 136.5h0M452 178.2h0M435.6 189.1h0M529.5 114.7h0M447.6 180.3h0M455.8 174.5h0M524.4 116.2h0M434.2 189.8h0M459.2 169.9h0M490.5 145.6h0M437.8 188.7h0M574.4 77.9h0M450.1 180.7h0M426 197.1h0M506.3 133.9h0M469.6 162.5h0M506.6 132.1h0M563.1 88.3h0M499.2 138.1h0M517.5 124.7h0M444.7 185.2h0M430.5 194.7h0M451.3 178.6h0M426.8 198.1h0M556.3 93.3h0M444.6 185h0M480.8 155.4h0M425.6 197.5h0M428.5 191.2h0M450.9 179.4h0M480.2 152.8h0M550.4 98h0M528.4 117.8h0M452.1 176.9h0M533.5 109.9h0M448.3 180.5h0M577.9 74.4h0M492.7 144.7h0M621.7 40.3h0M491.2 145.8h0M554.9 94.1h0M456.7 171.1h0M514.5 127.3h0M514.8 125.4h0M569.1 82.9h0M415 206.6h0M506.8 131.8h0M537.2 108.6h0M482.5 152.1h0M520.5 121.3h0M429.7 192.7h0M427.8 196.8h0M480.4 152.5h0M554.9 94.3h0M480.1 154.2h0M425.9 197.5h0M583.4 71h0M582.1 71.4h0M553 95.8h0M465.1 166.9h0M609.6 49.6h0M579.7 73.4h0M504.9 133.9h0M478.1 156.1h0M478.2 154h0M527.1 117.9h0M488.4 148.4h0M457.1 171h0M551 96.3h0M584.9 70.3h0M553.4 95.3h0M508.4 131.6h0M564.1 86.1h0M481.7 153.1h0M477.3 152.5h0M446.7 180.3h0M448.2 179.8h0M570.2 82.1h0M500.5 138h0M499.4 138.6h0M511.8 127.5h0M475 156.3h0M436.5 187.3h0M467.3 162.9h0M448.4 182.1h0M480.9 154.5h0M577.2 76.4h0M503.7 134.8h0M564.3 85.9h0M429 193.8h0M531.9 111.5h0M445.6 184.8h0M494 147.4h0M522.5 120h0M518.3 124.2h0M492.3 145.2h0M472.8 159.7h0M533.3 109.9h0M464.7 165.9h0M596.7 60h0M466.8 163.6h0M454.5 175.3h0M451.8 175.4h0M555.8 93.9h0M443 188.2h0M503.9 135.4h0M487.7 148h0M439.2 188.6h0M495.9 139.7h0M489.9 147.4h0M547.6 100.2h0M429.4 196h0M485.1 150h0M558.2 90.9h0M495.4 141.9h0M469.1 162h0M528.4 116.3h0M507 131.5h0M423.2 202.3h0M567.1 84.2h0M433 190.9h0M452 175h0M498.5 139h0M564.4 85.6h0M629.9 31.8h0M589 66.3h0M505.6 133.3h0M462.7 167h0M458 172.6h0M469.5 162.5h0M639.2 26.7h0M467.9 162.5h0M507.5 131.9h0M431.2 191.4h0M476.6 155.3h0M493.8 143.9h0M460.1 171.5h0M428.4 194.3h0M504.9 135.5h0M487.5 148.3h0M457.2 173.4h0M484.6 149.3h0M420.1 201h0M506.1 133.3h0M448.9 178.7h0M556.9 92.8h0M481.3 151.9h0M483.8 153.7h0M601.3 57h0" stroke="#0a45a6" stroke-width="2.4" stroke-linecap="round" fill="none"/>
<path d="M486.4 150.2h0M558.2 91.7h0M451.4 179.7h0M572.2 79.8h0M565.1 85.6h0M589.8 65.3h0M476 157.4h0M431.6 194h0M476.4 158.8h0M590.6 65.1h0M563.3 86.7h0M483 151.5h0M477.7 146.2h0M457.3 173.2h0M531.8 113.2h0M434.3 190.3h0M448.8 177.5h0M455.4 172.7h0M463.6 167.4h0M621.9 39.7h0M507.6 135.7h0M463.5 165.6h0M450 178.9h0M566.5 83.9h0M487.6 146.4h0M482.5 152.9h0M586.4 69h0M541.3 106.7h0M491.3 144h0M466.1 163.7h0M447.7 180.1h0M466.6 164.5h0M493.6 142.8h0M569 82.1h0M529.1 115.4h0M490.2 144.6h0M519.6 126.2h0M518 123.5h0M433.3 192.3h0M459 173h0M560.6 88.8h0M435.3 189.3h0M480.5 153.3h0M489.2 146.8h0M594 61.5h0M576.8 76.5h0M465.4 166.5h0M450.8 176.6h0M549.7 98.3h0M488.2 149.4h0M572.8 79.8h0M619.4 41.9h0M555.2 93.9h0M617.7 42.4h0M502.8 136.5h0M452 178.2h0M435.6 189.1h0M529.5 114.7h0M447.6 180.3h0M455.8 174.5h0M524.4 116.2h0M434.2 189.8h0M459.2 169.9h0M490.5 145.6h0M437.8 188.7h0M574.4 77.9h0M450.1 180.7h0M426 197.1h0M506.3 133.9h0M469.6 162.5h0M506.6 132.1h0M563.1 88.3h0M499.2 138.1h0M517.5 124.7h0M444.7 185.2h0M430.5 194.7h0M451.3 178.6h0M426.8 198.1h0M556.3 93.3h0M444.6 185h0M480.8 155.4h0M425.6 197.5h0M428.5 191.2h0M450.9 179.4h0M480.2 152.8h0M550.4 98h0M528.4 117.8h0M452.1 176.9h0M533.5 109.9h0M448.3 180.5h0M577.9 74.4h0M492.7 144.7h0M621.7 40.3h0M491.2 145.8h0M554.9 94.1h0M456.7 171.1h0M514.5 127.3h0M514.8 125.4h0M569.1 82.9h0M415 206.6h0M506.8 131.8h0M537.2 108.6h0M482.5 152.1h0M520.5 121.3h0M429.7 192.7h0M427.8 196.8h0M480.4 152.5h0M554.9 94.3h0M480.1 154.2h0M425.9 197.5h0M583.4 71h0M582.1 71.4h0M553 95.8h0M465.1 166.9h0M609.6 49.6h0M579.7 73.4h0M504.9 133.9h0M478.1 156.1h0M478.2 154h0M527.1 117.9h0M488.4 148.4h0M457.1 171h0M551 96.3h0M584.9 70.3h0M553.4 95.3h0M508.4 131.6h0M564.1 86.1h0M481.7 153.1h0M477.3 152.5h0M446.7 180.3h0M448.2 179.8h0M570.2 82.1h0M500.5 138h0M499.4 138.6h0M511.8 127.5h0M475 156.3h0M436.5 187.3h0M467.3 162.9h0M448.4 182.1h0M480.9 154.5h0M577.2 76.4h0M503.7 134.8h0M564.3 85.9h0M429 193.8h0M531.9 111.5h0M445.6 184.8h0M494 147.4h0M522.5 120h0M518.3 124.2h0M492.3 145.2h0M472.8 159.7h0M533.3 109.9h0M464.7 165.9h0M596.7 60h0M466.8 163.6h0M454.5 175.3h0M451.8 175.4h0M555.8 93.9h0M443 188.2h0M503.9 135.4h0M487.7 148h0M439.2 188.6h0M495.9 139.7h0M489.9 147.4h0M547.6 100.2h0M429.4 196h0M485.1 150h0M558.2 90.9h0M495.4 141.9h0M469.1 162h0M528.4 116.3h0M507 131.5h0M423.2 202.3h0M567.1 84.2h0M433 190.9h0M452 175h0M498.5 139h0M564.4 85.6h0M629.9 31.8h0M589 66.3h0M505.6 133.3h0M462.7 167h0M458 172.6h0M469.5 162.5h0M639.2 26.7h0M467.9 162.5h0M507.5 131.9h0M431.2 191.4h0M476.6 155.3h0M493.8 143.9h0M460.1 171.5h0M428.4 194.3h0M504.9 135.5h0M487.5 148.3h0M457.2 173.4h0M484.6 149.3h0M420.1 201h0M506.1 133.3h0M448.9 178.7h0M556.9 92.8h0M481.3 151.9h0M483.8 153.7h0M601.3 57h0" stroke="#1678d8" stroke-width="1.5" stroke-linecap="round" fill="none"/>
<path d="M533 111.9h0M484.1 148.4h0M557.3 92.4h0M550.6 96.4h0M540.3 105h0M479.1 155.2h0M576.8 75.5h0M599.3 59.1h0M489.7 146.2h0M477.7 157.2h0M454.1 175.3h0M527.4 116.2h0M452.4 178.7h0M462 166.3h0M513 127.2h0M449.7 179.4h0M477.7 154.5h0M461.2 168.2h0M426.8 197.6h0M638.1 26.9h0M570.8 81.2h0M485.7 148.4h0M573.2 79.9h0M490.2 145.5h0M445.1 178.7h0M420.6 201.2h0M554.3 94.7h0M533.5 111.5h0M475.4 157.1h0M443.3 181.9h0M514.1 129.3h0M484.6 151.7h0M497 140h0M425.2 199.2h0M425 199.3h0M531.7 110.2h0M533.7 109.7h0M474.3 158.3h0M468.7 162h0M514.6 130.5h0M525.5 118.5h0M518.7 122.6h0M582.4 73.1h0M527 118.1h0M454.4 177h0M444.6 180.3h0M456.4 172h0M557.3 92.6h0M636.2 28.7h0M533.3 111.4h0M504.4 133.3h0M454.3 177.5h0M463 169.3h0M455 173.6h0M453.4 175.8h0M578.2 75.5h0M468.8 163h0M557.5 92.2h0M556 92.8h0M585 70h0M491 144.7h0M489.7 147.9h0M607.7 50.9h0M518.1 122.7h0M434.9 188h0M454.7 173.8h0M560.5 89.6h0M585.4 68.9h0M488.5 147.1h0M477.8 154.5h0M465.7 166.6h0M587.6 67.2h0M523.1 118.9h0M503.4 136.5h0M500.8 138.4h0M462.1 170.7h0M489.7 146.7h0M419.8 203.7h0M469 163.3h0M551 97.5h0M613.1 47.9h0M482.8 152h0M480.2 153.2h0M566.6 83.9h0M428.7 196.8h0M445.8 177.3h0M453.2 175.3h0M585 70.2h0M493.2 144.2h0M587.3 68.1h0M527.4 115.7h0M510.4 129.2h0M580.6 72.1h0M514.6 127.4h0M467.4 164.5h0M437 189.7h0M520.4 120.4h0M583.5 71.1h0M490.8 146.4h0M490 147.7h0M452.9 176.5h0M454.5 173.9h0M579.8 74.1h0M457.2 173.8h0M500.7 138.7h0M446.6 180.6h0M587.3 66.9h0M531.2 111.8h0M460.5 169.6h0M529.3 114.5h0M513.1 127.4h0M501.4 137.5h0M427.2 196.4h0M459.9 169.7h0M599.7 59.5h0M564.3 85.6h0M585.5 69.1h0M442.2 184.4h0M479.5 155.5h0M463.8 166.1h0M615.9 45.3h0M437.6 187.4h0M442.7 183.7h0M557.5 92h0M483.3 151.2h0M558.3 91.3h0M496.2 140.6h0M437.2 188.5h0M552.1 95.9h0M460.2 172h0M469.1 164.2h0M638.1 26.6h0M450.4 178.8h0M423.6 199.3h0M570.2 82.3h0M607.8 51.5h0M472.2 159h0M448.3 179.7h0M553 95.5h0M515.6 124.8h0M460.7 168.6h0M434 194.6h0M487.8 146.7h0M447.6 179.2h0M456.7 173h0M530.9 112h0M552.1 95h0M475.8 157.9h0M591.3 63.4h0M565.7 84.4h0M429.6 195.2h0M449 175.2h0M529.2 115.2h0M548.9 99.2h0M506.3 133.8h0M420.6 201.7h0M527.9 115.4h0M478.3 155.5h0M472.2 161h0M577.2 75.8h0M550.7 95.3h0M519.2 122.2h0M587.4 67.8h0M560.1 90.5h0M439.3 184.5h0M447.2 180.6h0M562.1 87.9h0M448.4 178.8h0M503.3 137.2h0M493.3 143.1h0M530.7 113.1h0M428.7 193.9h0M477.1 156.1h0M461.3 168.5h0M438.3 186.6h0M488.7 146.9h0M462.4 164.3h0M586 68.1h0M556.7 93h0M469.1 164.2h0M439.2 186.4h0M449.2 179.3h0M528.8 113.5h0M562.6 86.7h0M576.5 77.4h0M556.6 92.2h0M485.1 149.6h0M501.3 137.1h0M455.9 173.2h0M582.5 71.5h0M454.4 177.7h0M484.7 151.1h0M505.2 133.6h0M472.9 160.3h0M489.5 146.4h0M632.1 32.1h0M514.8 125.2h0M576.7 75.2h0M454.8 173h0M429.3 196.1h0M482.3 153.3h0M456.1 176.1h0M586.8 68.4h0" stroke="#0a45a6" stroke-width="2.4" stroke-linecap="round" fill="none"/>
<path d="M533 111.9h0M484.1 148.4h0M557.3 92.4h0M550.6 96.4h0M540.3 105h0M479.1 155.2h0M576.8 75.5h0M599.3 59.1h0M489.7 146.2h0M477.7 157.2h0M454.1 175.3h0M527.4 116.2h0M452.4 178.7h0M462 166.3h0M513 127.2h0M449.7 179.4h0M477.7 154.5h0M461.2 168.2h0M426.8 197.6h0M638.1 26.9h0M570.8 81.2h0M485.7 148.4h0M573.2 79.9h0M490.2 145.5h0M445.1 178.7h0M420.6 201.2h0M554.3 94.7h0M533.5 111.5h0M475.4 157.1h0M443.3 181.9h0M514.1 129.3h0M484.6 151.7h0M497 140h0M425.2 199.2h0M425 199.3h0M531.7 110.2h0M533.7 109.7h0M474.3 158.3h0M468.7 162h0M514.6 130.5h0M525.5 118.5h0M518.7 122.6h0M582.4 73.1h0M527 118.1h0M454.4 177h0M444.6 180.3h0M456.4 172h0M557.3 92.6h0M636.2 28.7h0M533.3 111.4h0M504.4 133.3h0M454.3 177.5h0M463 169.3h0M455 173.6h0M453.4 175.8h0M578.2 75.5h0M468.8 163h0M557.5 92.2h0M556 92.8h0M585 70h0M491 144.7h0M489.7 147.9h0M607.7 50.9h0M518.1 122.7h0M434.9 188h0M454.7 173.8h0M560.5 89.6h0M585.4 68.9h0M488.5 147.1h0M477.8 154.5h0M465.7 166.6h0M587.6 67.2h0M523.1 118.9h0M503.4 136.5h0M500.8 138.4h0M462.1 170.7h0M489.7 146.7h0M419.8 203.7h0M469 163.3h0M551 97.5h0M613.1 47.9h0M482.8 152h0M480.2 153.2h0M566.6 83.9h0M428.7 196.8h0M445.8 177.3h0M453.2 175.3h0M585 70.2h0M493.2 144.2h0M587.3 68.1h0M527.4 115.7h0M510.4 129.2h0M580.6 72.1h0M514.6 127.4h0M467.4 164.5h0M437 189.7h0M520.4 120.4h0M583.5 71.1h0M490.8 146.4h0M490 147.7h0M452.9 176.5h0M454.5 173.9h0M579.8 74.1h0M457.2 173.8h0M500.7 138.7h0M446.6 180.6h0M587.3 66.9h0M531.2 111.8h0M460.5 169.6h0M529.3 114.5h0M513.1 127.4h0M501.4 137.5h0M427.2 196.4h0M459.9 169.7h0M599.7 59.5h0M564.3 85.6h0M585.5 69.1h0M442.2 184.4h0M479.5 155.5h0M463.8 166.1h0M615.9 45.3h0M437.6 187.4h0M442.7 183.7h0M557.5 92h0M483.3 151.2h0M558.3 91.3h0M496.2 140.6h0M437.2 188.5h0M552.1 95.9h0M460.2 172h0M469.1 164.2h0M638.1 26.6h0M450.4 178.8h0M423.6 199.3h0M570.2 82.3h0M607.8 51.5h0M472.2 159h0M448.3 179.7h0M553 95.5h0M515.6 124.8h0M460.7 168.6h0M434 194.6h0M487.8 146.7h0M447.6 179.2h0M456.7 173h0M530.9 112h0M552.1 95h0M475.8 157.9h0M591.3 63.4h0M565.7 84.4h0M429.6 195.2h0M449 175.2h0M529.2 115.2h0M548.9 99.2h0M506.3 133.8h0M420.6 201.7h0M527.9 115.4h0M478.3 155.5h0M472.2 161h0M577.2 75.8h0M550.7 95.3h0M519.2 122.2h0M587.4 67.8h0M560.1 90.5h0M439.3 184.5h0M447.2 180.6h0M562.1 87.9h0M448.4 178.8h0M503.3 137.2h0M493.3 143.1h0M530.7 113.1h0M428.7 193.9h0M477.1 156.1h0M461.3 168.5h0M438.3 186.6h0M488.7 146.9h0M462.4 164.3h0M586 68.1h0M556.7 93h0M469.1 164.2h0M439.2 186.4h0M449.2 179.3h0M528.8 113.5h0M562.6 86.7h0M576.5 77.4h0M556.6 92.2h0M485.1 149.6h0M501.3 137.1h0M455.9 173.2h0M582.5 71.5h0M454.4 177.7h0M484.7 151.1h0M505.2 133.6h0M472.9 160.3h0M489.5 146.4h0M632.1 32.1h0M514.8 125.2h0M576.7 75.2h0M454.8 173h0M429.3 196.1h0M482.3 153.3h0M456.1 176.1h0M586.8 68.4h0" stroke="#1678d8" stroke-width="1.5" stroke-linecap="round" fill="none"/>
<path d="M518.6 124.7h0M463.1 166.4h0M569.1 82.7h0M474.8 157.2h0M462 168.6h0M488.2 147.9h0M466.2 164.5h0M521.6 121h0M507.3 132.5h0M458.1 171.8h0M530.5 110.5h0M446.4 180h0M505.3 134.7h0M560.9 88.6h0M486.2 150.4h0M600.2 56.7h0M428.3 193.3h0M561.4 88.5h0M429.5 196.9h0M524.2 119.3h0M450 179.5h0M525.1 118.9h0M451.1 175h0M485.7 148.6h0M456.5 174.7h0M521.7 121h0M519.9 123.9h0M495.4 139.6h0M561.1 89.2h0M496.8 140.8h0M506.8 131.7h0M491.6 143.6h0M432.8 189.7h0M628.1 34.6h0M496 141h0M525 116.8h0M522.7 120.7h0M526.8 115.7h0M484.1 153.2h0M465.4 164.2h0M484.1 151.7h0M515.8 127.6h0M471.2 161.9h0M575.1 77.7h0M547.1 100.8h0M642.4 22.9h0M632.7 31.6h0M443.9 191.6h0M476.7 157.4h0M568.7 83.4h0M433.4 189.8h0M439 190.1h0M471 160.2h0M617 44.9h0M447.3 181h0M505.7 132.5h0M481.4 152h0M641.8 23.1h0M448.2 177.5h0M469.7 161.8h0M582 72.2h0M503 135.6h0M425.2 197.9h0M527.1 116.2h0M513.1 127.7h0M521 121.1h0M446.6 180.6h0M462.9 169.7h0M433.2 192.8h0M448.4 181.6h0M462.1 169h0M511.7 127.7h0M521.3 122.4h0M554.4 94.8h0M566.2 85h0M456.2 173.7h0M475.3 158.1h0M519.1 121h0M518.8 122.9h0M440.3 187.3h0M512 129.8h0M519.1 123.1h0M517.3 125.9h0M506.6 132h0M584 70h0M464 166.7h0M493.2 144.8h0M576.7 77h0M468.9 162.6h0M439 188.2h0M510.3 129.5h0M563.6 87.1h0M502.1 136.3h0M481.3 156.5h0M596.9 60.4h0M476.5 156.3h0M463.3 166.5h0M580.6 73.9h0M514.4 125h0M441.9 186.3h0M489.8 147.7h0M530 114.2h0M600 57.5h0M490.8 144.5h0M568.1 82.6h0M534.9 110.5h0M493.2 143.8h0M616.2 44.9h0M472.1 162.1h0M551.7 97.5h0M637.1 27.3h0M438.2 189.7h0M491 144.1h0M501.5 136.1h0M473.6 159.5h0M501.1 136.7h0M600.4 56.5h0M472.3 161.8h0M553.8 95.8h0M493.9 143.7h0M526 117.7h0M474.7 157.6h0M518.4 122.9h0M628.3 32.9h0M491 144.9h0M508.1 130.2h0M486.1 151.5h0M469.3 164.2h0M559.4 91.7h0M616.3 45.2h0M476.2 157.9h0M457.9 171.6h0M547 100.7h0M567.2 84.6h0M514 127h0M527.4 115.8h0M482.1 152.5h0M575.8 77.1h0M548.2 99.2h0M530.5 113.5h0M564.5 84.9h0M426.7 197.8h0M602.6 56.9h0M510.7 129.2h0M459.2 170.6h0M603.6 55.5h0M424.2 200.2h0M579.5 73.6h0M453.6 173.5h0M617.5 44h0M414.4 206.8h0M501.2 136.9h0M530.7 112.2h0M563 87.5h0M517.2 124.7h0M490.9 146.3h0M482.8 152.1h0M436.8 189.9h0M580.9 72.6h0M456.6 172.5h0M626.8 34.9h0M485.9 147.5h0M533.3 112.3h0M458.8 170.9h0M493 142.9h0M496.1 142.5h0M450 177.7h0M611.3 49.2h0M494 143h0M576 76.6h0M636.6 28.1h0M514.5 125.7h0M577 76.3h0M478.4 152.5h0M464 168.7h0M480.4 154.6h0M460.5 170.4h0M529.3 115.3h0M552.6 95.8h0M478.4 155.4h0M518 122.9h0M483.7 150.4h0M450.9 179h0M505.1 134.6h0M460.4 169.8h0M439.7 185.6h0M427.9 198h0M494.5 142.5h0M482 152.2h0M470.6 161.4h0M474.2 156.6h0M600.2 57.7h0M435.7 191.4h0M506.4 132.6h0M438.2 190.8h0M530.5 113.9h0M481.7 152.4h0M504.4 137.2h0M472.3 158.5h0M497.6 139.8h0M528 115.9h0M474.4 159.8h0M453.2 177.9h0" stroke="#0a45a6" stroke-width="2.4" stroke-linecap="round" fill="none"/>
<path d="M518.6 124.7h0M463.1 166.4h0M569.1 82.7h0M474.8 157.2h0M462 168.6h0M488.2 147.9h0M466.2 164.5h0M521.6 121h0M507.3 132.5h0M458.1 171.8h0M530.5 110.5h0M446.4 180h0M505.3 134.7h0M560.9 88.6h0M486.2 150.4h0M600.2 56.7h0M428.3 193.3h0M561.4 88.5h0M429.5 196.9h0M524.2 119.3h0M450 179.5h0M525.1 118.9h0M451.1 175h0M485.7 148.6h0M456.5 174.7h0M521.7 121h0M519.9 123.9h0M495.4 139.6h0M561.1 89.2h0M496.8 140.8h0M506.8 131.7h0M491.6 143.6h0M432.8 189.7h0M628.1 34.6h0M496 141h0M525 116.8h0M522.7 120.7h0M526.8 115.7h0M484.1 153.2h0M465.4 164.2h0M484.1 151.7h0M515.8 127.6h0M471.2 161.9h0M575.1 77.7h0M547.1 100.8h0M642.4 22.9h0M632.7 31.6h0M443.9 191.6h0M476.7 157.4h0M568.7 83.4h0M433.4 189.8h0M439 190.1h0M471 160.2h0M617 44.9h0M447.3 181h0M505.7 132.5h0M481.4 152h0M641.8 23.1h0M448.2 177.5h0M469.7 161.8h0M582 72.2h0M503 135.6h0M425.2 197.9h0M527.1 116.2h0M513.1 127.7h0M521 121.1h0M446.6 180.6h0M462.9 169.7h0M433.2 192.8h0M448.4 181.6h0M462.1 169h0M511.7 127.7h0M521.3 122.4h0M554.4 94.8h0M566.2 85h0M456.2 173.7h0M475.3 158.1h0M519.1 121h0M518.8 122.9h0M440.3 187.3h0M512 129.8h0M519.1 123.1h0M517.3 125.9h0M506.6 132h0M584 70h0M464 166.7h0M493.2 144.8h0M576.7 77h0M468.9 162.6h0M439 188.2h0M510.3 129.5h0M563.6 87.1h0M502.1 136.3h0M481.3 156.5h0M596.9 60.4h0M476.5 156.3h0M463.3 166.5h0M580.6 73.9h0M514.4 125h0M441.9 186.3h0M489.8 147.7h0M530 114.2h0M600 57.5h0M490.8 144.5h0M568.1 82.6h0M534.9 110.5h0M493.2 143.8h0M616.2 44.9h0M472.1 162.1h0M551.7 97.5h0M637.1 27.3h0M438.2 189.7h0M491 144.1h0M501.5 136.1h0M473.6 159.5h0M501.1 136.7h0M600.4 56.5h0M472.3 161.8h0M553.8 95.8h0M493.9 143.7h0M526 117.7h0M474.7 157.6h0M518.4 122.9h0M628.3 32.9h0M491 144.9h0M508.1 130.2h0M486.1 151.5h0M469.3 164.2h0M559.4 91.7h0M616.3 45.2h0M476.2 157.9h0M457.9 171.6h0M547 100.7h0M567.2 84.6h0M514 127h0M527.4 115.8h0M482.1 152.5h0M575.8 77.1h0M548.2 99.2h0M530.5 113.5h0M564.5 84.9h0M426.7 197.8h0M602.6 56.9h0M510.7 129.2h0M459.2 170.6h0M603.6 55.5h0M424.2 200.2h0M579.5 73.6h0M453.6 173.5h0M617.5 44h0M414.4 206.8h0M501.2 136.9h0M530.7 112.2h0M563 87.5h0M517.2 124.7h0M490.9 146.3h0M482.8 152.1h0M436.8 189.9h0M580.9 72.6h0M456.6 172.5h0M626.8 34.9h0M485.9 147.5h0M533.3 112.3h0M458.8 170.9h0M493 142.9h0M496.1 142.5h0M450 177.7h0M611.3 49.2h0M494 143h0M576 76.6h0M636.6 28.1h0M514.5 125.7h0M577 76.3h0M478.4 152.5h0M464 168.7h0M480.4 154.6h0M460.5 170.4h0M529.3 115.3h0M552.6 95.8h0M478.4 155.4h0M518 122.9h0M483.7 150.4h0M450.9 179h0M505.1 134.6h0M460.4 169.8h0M439.7 185.6h0M427.9 198h0M494.5 142.5h0M482 152.2h0M470.6 161.4h0M474.2 156.6h0M600.2 57.7h0M435.7 191.4h0M506.4 132.6h0M438.2 190.8h0M530.5 113.9h0M481.7 152.4h0M504.4 137.2h0M472.3 158.5h0M497.6 139.8h0M528 115.9h0M474.4 159.8h0M453.2 177.9h0" stroke="#1678d8" stroke-width="1.5" stroke-linecap="round" fill="none"/>
<path d="M479.7 154.8h0M466.9 164.2h0M579.2 74.5h0M563.2 87.7h0M491.1 146h0M506.8 132.7h0M561.3 88.4h0M489.3 146.1h0M522.4 118.8h0M523.3 118.9h0M425.8 198.6h0M470.4 160.4h0M424.5 200.8h0M427.7 196h0M495 142.1h0M471.4 162h0M459.1 171.1h0M444.2 182.2h0M457.2 170.9h0M493.4 144.5h0M455 176.8h0M493.7 145.8h0M532.9 110.2h0M527.4 115.5h0M516.2 124.5h0M475.7 157.2h0M635.1 30.2h0M492.3 147.1h0M495.5 142.3h0M489.9 144.8h0M461.9 169.7h0M494.6 144.6h0M482.5 150.9h0M488.6 148.1h0M492.8 143.2h0M558.2 90.9h0M553.1 94.9h0M508.7 130.2h0M529.5 114.6h0M601 56.4h0M507.3 131.5h0M529.9 114.8h0M595.9 59.7h0M433.2 192.3h0M445.4 182.4h0M580.5 73.9h0M474.2 158.1h0M485.5 148.8h0M578.1 74.3h0M561.5 88.8h0M450.3 177h0M450.6 179h0M434 191h0M433.3 190.4h0M510.1 129.8h0M464.6 166.6h0M593.1 64h0M457.9 172.5h0M484.6 150.6h0M557.8 91.3h0M526.4 116h0M527.9 116.1h0M551.6 96.6h0M494.5 143.7h0M455.5 171.6h0M576.8 76.3h0M580.3 73.6h0M600.6 58.6h0M453 178.6h0M470.7 161.5h0M551.1 97.3h0M457.5 171.4h0M602.4 56.4h0M491.5 144.3h0M514.6 127.6h0M492.1 145h0M513.6 126.4h0M452.9 174.4h0M619.3 41.6h0M551.2 96.1h0M623.6 39.7h0M630.7 33.7h0M551.1 97.5h0M514.3 127.7h0M560.8 89.1h0M568.7 82.7h0M479.1 154.9h0M461.9 168.3h0M485.6 149h0M444.6 183.1h0M534 110.4h0M462.4 170.1h0M511.6 129.2h0M579.9 73.6h0M499.5 140.3h0M524.5 118.1h0M519.6 121.5h0M564.2 85.8h0M494.7 142.1h0M518.9 122.1h0M458.4 172.8h0M511.7 129.7h0M529.3 116.5h0M482.7 151.4h0M490.8 144.7h0M580.5 72.8h0M456.8 173.3h0M479.9 152.9h0M461.8 167.6h0M573.3 79.7h0M581.2 72.7h0M569.9 81.8h0M572.5 79.4h0M537 108.2h0M449.6 181h0M459 171.7h0M522.2 123.4h0M603 55.3h0M506 133.9h0M475.4 160h0M458.2 169.9h0M513.5 128.1h0M479.6 152.2h0M608.9 50.8h0M447.3 180.1h0M561.7 87.9h0M511.9 128.9h0M590.6 65.6h0M464.9 166.4h0M483.5 151.9h0M552 96.6h0M557.5 92.5h0M552.3 96.6h0M471.2 162.2h0M499.4 137.8h0M488.1 148.3h0M485.6 149.8h0M457.7 171.5h0M454.3 174.1h0M481.8 152.8h0M518.3 123.4h0M482.1 153.8h0M552.2 96.7h0M459.5 174h0M426.8 197.2h0M479.1 154.4h0M519.7 121.2h0M577 75h0M609.7 49.3h0M460.6 169.7h0M555.5 92.9h0M508.2 129.3h0M552.3 96.5h0M492.6 142.8h0M555.2 93.3h0M470.1 161.3h0M491.1 145.4h0M441.9 184.6h0M438.7 186.6h0M513.4 127h0M524 118.4h0M473.5 157.3h0M437.3 188.1h0M502.7 138.1h0M506.6 132.7h0M577.7 75.4h0M463.8 169.4h0M499.6 137.7h0M595.5 61h0M468.1 165.2h0M460.9 168h0M432.1 193.1h0M563.6 86.3h0M454.9 175.5h0M580.2 73.3h0M583.6 71.1h0M467 163.1h0M472.8 158.9h0M524.1 118.4h0M493 143.2h0M452 176.8h0M561.1 90h0M559.2 90.1h0M506 134h0M593.9 63.7h0M473.2 159.4h0M524.2 119h0M469.4 162.2h0M526 116.5h0M481.1 152.3h0M496.9 139h0M443.8 182.6h0M590.4 66.1h0M492.1 144.7h0M427.3 203.4h0M427.5 193.7h0M521.2 120.8h0M569.5 82.6h0M526.1 116.9h0M418.6 203.1h0M547.6 99.4h0M456.2 171.2h0" stroke="#0a45a6" stroke-width="2.4" stroke-linecap="round" fill="none"/>
<path d="M479.7 154.8h0M466.9 164.2h0M579.2 74.5h0M563.2 87.7h0M491.1 146h0M506.8 132.7h0M561.3 88.4h0M489.3 146.1h0M522.4 118.8h0M523.3 118.9h0M425.8 198.6h0M470.4 160.4h0M424.5 200.8h0M427.7 196h0M495 142.1h0M471.4 162h0M459.1 171.1h0M444.2 182.2h0M457.2 170.9h0M493.4 144.5h0M455 176.8h0M493.7 145.8h0M532.9 110.2h0M527.4 115.5h0M516.2 124.5h0M475.7 157.2h0M635.1 30.2h0M492.3 147.1h0M495.5 142.3h0M489.9 144.8h0M461.9 169.7h0M494.6 144.6h0M482.5 150.9h0M488.6 148.1h0M492.8 143.2h0M558.2 90.9h0M553.1 94.9h0M508.7 130.2h0M529.5 114.6h0M601 56.4h0M507.3 131.5h0M529.9 114.8h0M595.9 59.7h0M433.2 192.3h0M445.4 182.4h0M580.5 73.9h0M474.2 158.1h0M485.5 148.8h0M578.1 74.3h0M561.5 88.8h0M450.3 177h0M450.6 179h0M434 191h0M433.3 190.4h0M510.1 129.8h0M464.6 166.6h0M593.1 64h0M457.9 172.5h0M484.6 150.6h0M557.8 91.3h0M526.4 116h0M527.9 116.1h0M551.6 96.6h0M494.5 143.7h0M455.5 171.6h0M576.8 76.3h0M580.3 73.6h0M600.6 58.6h0M453 178.6h0M470.7 161.5h0M551.1 97.3h0M457.5 171.4h0M602.4 56.4h0M491.5 144.3h0M514.6 127.6h0M492.1 145h0M513.6 126.4h0M452.9 174.4h0M619.3 41.6h0M551.2 96.1h0M623.6 39.7h0M630.7 33.7h0M551.1 97.5h0M514.3 127.7h0M560.8 89.1h0M568.7 82.7h0M479.1 154.9h0M461.9 168.3h0M485.6 149h0M444.6 183.1h0M534 110.4h0M462.4 170.1h0M511.6 129.2h0M579.9 73.6h0M499.5 140.3h0M524.5 118.1h0M519.6 121.5h0M564.2 85.8h0M494.7 142.1h0M518.9 122.1h0M458.4 172.8h0M511.7 129.7h0M529.3 116.5h0M482.7 151.4h0M490.8 144.7h0M580.5 72.8h0M456.8 173.3h0M479.9 152.9h0M461.8 167.6h0M573.3 79.7h0M581.2 72.7h0M569.9 81.8h0M572.5 79.4h0M537 108.2h0M449.6 181h0M459 171.7h0M522.2 123.4h0M603 55.3h0M506 133.9h0M475.4 160h0M458.2 169.9h0M513.5 128.1h0M479.6 152.2h0M608.9 50.8h0M447.3 180.1h0M561.7 87.9h0M511.9 128.9h0M590.6 65.6h0M464.9 166.4h0M483.5 151.9h0M552 96.6h0M557.5 92.5h0M552.3 96.6h0M471.2 162.2h0M499.4 137.8h0M488.1 148.3h0M485.6 149.8h0M457.7 171.5h0M454.3 174.1h0M481.8 152.8h0M518.3 123.4h0M482.1 153.8h0M552.2 96.7h0M459.5 174h0M426.8 197.2h0M479.1 154.4h0M519.7 121.2h0M577 75h0M609.7 49.3h0M460.6 169.7h0M555.5 92.9h0M508.2 129.3h0M552.3 96.5h0M492.6 142.8h0M555.2 93.3h0M470.1 161.3h0M491.1 145.4h0M441.9 184.6h0M438.7 186.6h0M513.4 127h0M524 118.4h0M473.5 157.3h0M437.3 188.1h0M502.7 138.1h0M506.6 132.7h0M577.7 75.4h0M463.8 169.4h0M499.6 137.7h0M595.5 61h0M468.1 165.2h0M460.9 168h0M432.1 193.1h0M563.6 86.3h0M454.9 175.5h0M580.2 73.3h0M583.6 71.1h0M467 163.1h0M472.8 158.9h0M524.1 118.4h0M493 143.2h0M452 176.8h0M561.1 90h0M559.2 90.1h0M506 134h0M593.9 63.7h0M473.2 159.4h0M524.2 119h0M469.4 162.2h0M526 116.5h0M481.1 152.3h0M496.9 139h0M443.8 182.6h0M590.4 66.1h0M492.1 144.7h0M427.3 203.4h0M427.5 193.7h0M521.2 120.8h0M569.5 82.6h0M526.1 116.9h0M418.6 203.1h0M547.6 99.4h0M456.2 171.2h0" stroke="#1678d8" stroke-width="1.5" stroke-linecap="round" fill="none"/>
<path d="M518.7 123.4h0M583.1 71.8h0M435.4 189.8h0M561.3 89.4h0M489.9 146.2h0M558.5 91.8h0M511.2 128.2h0M451.3 179h0M476 159.8h0M481 152.4h0M507.5 131.7h0M560.5 89.3h0M431.4 193h0M459.4 171.2h0M449.1 179.6h0M453.2 174.8h0M482.8 151.7h0M486.2 147.7h0M609.6 50.2h0M432.1 192.1h0M436.6 190.5h0M484.8 150.2h0M445.9 181.4h0M557 92.2h0M529.7 114.5h0M458.7 170.4h0M462.7 168.2h0M459.6 168.5h0M429.1 197.2h0M446.1 182.7h0M577.1 76.5h0M450.8 176.9h0M506.6 134.3h0M482.2 152.2h0M467.8 161h0M626.2 34.8h0M565.3 85.6h0M500.6 138.2h0M527.3 116.3h0M430.9 192h0M451.5 173.3h0M454.2 174.4h0M482.4 153.2h0M522.7 119.2h0M524.4 119.2h0M458.6 171.5h0M610.6 49.3h0M501.2 138.9h0M485.6 150h0M421.4 201.3h0M426.4 196.6h0M557.6 91.2h0M447.5 179.1h0M528.4 117.2h0M490.9 145.9h0M488.7 147.5h0M601.6 56h0M534.8 111.1h0M428.7 195.7h0M466.6 164h0M424.9 198.3h0M610.3 48.3h0M488.4 147.4h0M510.8 129.8h0M599.1 58.6h0M428.2 193.3h0M467.1 164.7h0M532.7 111.6h0M427.2 196.9h0M426.7 195.9h0M476 154.1h0M571.6 79.8h0M484.6 151.6h0M569.4 82.5h0M637.4 28.5h0M568.2 83.6h0M514.2 125.1h0M469.2 161.9h0M472.1 164.7h0M426.2 196.1h0M529.9 113.6h0M459.9 169.9h0M479.2 154.5h0M454.8 172.5h0M560.5 89.9h0M441 186.7h0M489.5 149h0M561.2 89.2h0M460.4 168.7h0M480.8 150.7h0M527.1 117.4h0M524.6 118.4h0M558.7 91.1h0M586.3 68.7h0M553.8 94.6h0M510.4 129.3h0M454.5 174h0M582.4 71.8h0M551.9 96h0M460.6 168.8h0M528.1 114.2h0M440.5 182.8h0M551.4 96.5h0M464.6 167.6h0M476.4 156.8h0M519.6 120.9h0M573.7 79.3h0M463.2 166.5h0M633.1 30.9h0M460.1 169.7h0M455.5 176.6h0M578 75.6h0M467.3 164.6h0M587.5 67.7h0M521.5 120.8h0M456 172.4h0M579.3 73.9h0M478.1 157.3h0M488.3 146.7h0M502.3 137h0M455.8 174.9h0M454.7 170.5h0M481.6 153.1h0M549.4 98.1h0M480.6 154h0M432.9 190.7h0M577.9 76.4h0M470.6 162.3h0M545 102.3h0M504.4 136.1h0M423.9 197.6h0M484.1 149.5h0M567 84h0M498.2 140.1h0M490.1 148.3h0M447.4 178.9h0M464.6 165.5h0M527.6 115.9h0M485.3 149.1h0M529.4 113.5h0M440.2 184.1h0M447.6 180.6h0M579.3 73.9h0M590.7 63.9h0M494.8 144h0M583.7 71.3h0M465.9 163.8h0M553.8 95.2h0M551.6 97.1h0M465.9 161.5h0M508.7 130.8h0M517.3 121.3h0M534.1 110.2h0M449.5 177.4h0M437 186.6h0M428 197.1h0M555.3 93.4h0M622.7 40.2h0M570.1 81.4h0M450.4 173.9h0M599.3 58.4h0M509.3 130.4h0M459.7 172.3h0M451 180.3h0M571.1 81h0M433.8 191.6h0M418.6 202.7h0M640.1 24.6h0M483 153.8h0M472.1 155.5h0M488.1 148.6h0M443.1 184.8h0M469.8 160.5h0M468.6 163.9h0M443.4 183.8h0M529.4 114.1h0M471.2 160.8h0M443.2 185.3h0M533.8 110.4h0M521.4 121h0M451.7 178.4h0M504.9 134.6h0M477.5 154.7h0M441.3 184.9h0M534 111.5h0M453.5 176.2h0M613.5 46.5h0M566.4 83.8h0M461.7 167.9h0M485.3 148.8h0M639.8 25.7h0M481.9 153.6h0M461.4 169.2h0M453.2 177.4h0M491.4 146h0M579.3 74.4h0M564.9 86h0M478 155.6h0M526.6 122.8h0M488.2 149.5h0M460.4 170.1h0M568.1 83.3h0" stroke="#0a45a6" stroke-width="2.4" stroke-linecap="round" fill="none"/>
<path d="M518.7 123.4h0M583.1 71.8h0M435.4 189.8h0M561.3 89.4h0M489.9 146.2h0M558.5 91.8h0M511.2 128.2h0M451.3 179h0M476 159.8h0M481 152.4h0M507.5 131.7h0M560.5 89.3h0M431.4 193h0M459.4 171.2h0M449.1 179.6h0M453.2 174.8h0M482.8 151.7h0M486.2 147.7h0M609.6 50.2h0M432.1 192.1h0M436.6 190.5h0M484.8 150.2h0M445.9 181.4h0M557 92.2h0M529.7 114.5h0M458.7 170.4h0M462.7 168.2h0M459.6 168.5h0M429.1 197.2h0M446.1 182.7h0M577.1 76.5h0M450.8 176.9h0M506.6 134.3h0M482.2 152.2h0M467.8 161h0M626.2 34.8h0M565.3 85.6h0M500.6 138.2h0M527.3 116.3h0M430.9 192h0M451.5 173.3h0M454.2 174.4h0M482.4 153.2h0M522.7 119.2h0M524.4 119.2h0M458.6 171.5h0M610.6 49.3h0M501.2 138.9h0M485.6 150h0M421.4 201.3h0M426.4 196.6h0M557.6 91.2h0M447.5 179.1h0M528.4 117.2h0M490.9 145.9h0M488.7 147.5h0M601.6 56h0M534.8 111.1h0M428.7 195.7h0M466.6 164h0M424.9 198.3h0M610.3 48.3h0M488.4 147.4h0M510.8 129.8h0M599.1 58.6h0M428.2 193.3h0M467.1 164.7h0M532.7 111.6h0M427.2 196.9h0M426.7 195.9h0M476 154.1h0M571.6 79.8h0M484.6 151.6h0M569.4 82.5h0M637.4 28.5h0M568.2 83.6h0M514.2 125.1h0M469.2 161.9h0M472.1 164.7h0M426.2 196.1h0M529.9 113.6h0M459.9 169.9h0M479.2 154.5h0M454.8 172.5h0M560.5 89.9h0M441 186.7h0M489.5 149h0M561.2 89.2h0M460.4 168.7h0M480.8 150.7h0M527.1 117.4h0M524.6 118.4h0M558.7 91.1h0M586.3 68.7h0M553.8 94.6h0M510.4 129.3h0M454.5 174h0M582.4 71.8h0M551.9 96h0M460.6 168.8h0M528.1 114.2h0M440.5 182.8h0M551.4 96.5h0M464.6 167.6h0M476.4 156.8h0M519.6 120.9h0M573.7 79.3h0M463.2 166.5h0M633.1 30.9h0M460.1 169.7h0M455.5 176.6h0M578 75.6h0M467.3 164.6h0M587.5 67.7h0M521.5 120.8h0M456 172.4h0M579.3 73.9h0M478.1 157.3h0M488.3 146.7h0M502.3 137h0M455.8 174.9h0M454.7 170.5h0M481.6 153.1h0M549.4 98.1h0M480.6 154h0M432.9 190.7h0M577.9 76.4h0M470.6 162.3h0M545 102.3h0M504.4 136.1h0M423.9 197.6h0M484.1 149.5h0M567 84h0M498.2 140.1h0M490.1 148.3h0M447.4 178.9h0M464.6 165.5h0M527.6 115.9h0M485.3 149.1h0M529.4 113.5h0M440.2 184.1h0M447.6 180.6h0M579.3 73.9h0M590.7 63.9h0M494.8 144h0M583.7 71.3h0M465.9 163.8h0M553.8 95.2h0M551.6 97.1h0M465.9 161.5h0M508.7 130.8h0M517.3 121.3h0M534.1 110.2h0M449.5 177.4h0M437 186.6h0M428 197.1h0M555.3 93.4h0M622.7 40.2h0M570.1 81.4h0M450.4 173.9h0M599.3 58.4h0M509.3 130.4h0M459.7 172.3h0M451 180.3h0M571.1 81h0M433.8 191.6h0M418.6 202.7h0M640.1 24.6h0M483 153.8h0M472.1 155.5h0M488.1 148.6h0M443.1 184.8h0M469.8 160.5h0M468.6 163.9h0M443.4 183.8h0M529.4 114.1h0M471.2 160.8h0M443.2 185.3h0M533.8 110.4h0M521.4 121h0M451.7 178.4h0M504.9 134.6h0M477.5 154.7h0M441.3 184.9h0M534 111.5h0M453.5 176.2h0M613.5 46.5h0M566.4 83.8h0M461.7 167.9h0M485.3 148.8h0M639.8 25.7h0M481.9 153.6h0M461.4 169.2h0M453.2 177.4h0M491.4 146h0M579.3 74.4h0M564.9 86h0M478 155.6h0M526.6 122.8h0M488.2 149.5h0M460.4 170.1h0M568.1 83.3h0" stroke="#1678d8" stroke-width="1.5" stroke-linecap="round" fill="none"/>
</g>
<rect x="399.5" y="9.5" width="260.3" height="209.5" fill="none" stroke="#000" stroke-width="1.7"/>
<path d="M442.9 219v-3.5M486.3 219v-3.5M529.6 219v-3.5M573 219v-3.5M616.4 219v-3.5M399.5 184.1h3.5M399.5 149.2h3.5M399.5 114.2h3.5M399.5 79.3h3.5M399.5 44.4h3.5" stroke="#000" stroke-width="1.5" fill="none"/>
<text class="t" font-size="12.08" x="399.5" y="237.2" text-anchor="middle">-400</text>
<text class="t" font-size="12.08" x="442.9" y="237.2" text-anchor="middle">-300</text>
<text class="t" font-size="12.08" x="486.3" y="237.2" text-anchor="middle">-200</text>
<text class="t" font-size="12.08" x="529.6" y="237.2" text-anchor="middle">-100</text>
<text class="t" font-size="12.08" x="573" y="237.2" text-anchor="middle">0</text>
<text class="t" font-size="12.08" x="616.4" y="237.2" text-anchor="middle">100</text>
<text class="t" font-size="12.08" x="659.8" y="237.2" text-anchor="middle">200</text>
<text class="t" font-size="12.08" x="388.2" y="222.9" text-anchor="end">-400</text>
<text class="t" font-size="12.08" x="388.2" y="188" text-anchor="end">-300</text>
<text class="t" font-size="12.08" x="388.2" y="153.1" text-anchor="end">-200</text>
<text class="t" font-size="12.08" x="388.2" y="118.2" text-anchor="end">-100</text>
<text class="t" font-size="12.08" x="388.2" y="83.3" text-anchor="end">0</text>
<text class="t" font-size="12.08" x="388.2" y="48.3" text-anchor="end">100</text>
<text class="t" font-size="12.08" x="388.2" y="13.4" text-anchor="end">200</text>
<text class="b" font-size="12.08" x="539.9" y="254" text-anchor="middle">Observed OHC (ZJ)</text>
<text class="b" font-size="12.08" transform="translate(361 100.2) rotate(-90)" text-anchor="middle">Predicted OHC (ZJ)</text>
<text class="l" font-size="12.08" x="408" y="26.5">b)</text>
<line x1="592.5" y1="191" x2="627" y2="191" stroke="#111" stroke-width="2" stroke-dasharray="3.8 2.1"/>
<text class="b" font-size="12.08" x="630" y="195.3">± 10</text>
<text class="b" font-size="12.08" x="592.5" y="208.5">R<tspan font-size="9.43" dy="-3.6">2</tspan><tspan dy="3.6">=0.9985</tspan></text>
</g>
<g id="panel-c">
<clipPath id="cc"><rect x="56" y="274.5" width="269.5" height="216.5"/></clipPath>
<g clip-path="url(#cc)">
<line x1="56" y1="491" x2="325.5" y2="274.5" stroke="#e50a0e" stroke-width="2.2"/>
<line x1="56" y1="478" x2="325.5" y2="283.2" stroke="#16100c" stroke-width="1.8" stroke-dasharray="4.8 3.8"/>
<line x1="56" y1="504" x2="325.5" y2="265.8" stroke="#16100c" stroke-width="1.8" stroke-dasharray="4.8 3.8"/>
<path d="M201.1 374.2h0M160 406.4h0M147.3 416.6h0M212.1 365.5h0M288.1 304.5h0M178.7 392.7h0M121.1 438.6h0M269.1 320.3h0M212.6 365.5h0M187.7 385.7h0M161.4 405.8h0M250.8 333h0M211.7 365.5h0M136.1 427.5h0M132.4 430.6h0M141.4 419.3h0M263.7 324.9h0M115.1 443.7h0M152.1 413.7h0M144.2 419.1h0M101.6 452.1h0M119.7 438.9h0M200.8 374.4h0M128.9 433.1h0M191.6 382.6h0M163.4 404.6h0M160.4 407.3h0M216.9 361.5h0M129 432.1h0M246.3 338.4h0M197.8 376.9h0M303.4 291.3h0M280.7 309.3h0M243.8 339.7h0M117.2 441.1h0M301.2 295.5h0M285.7 306.5h0M251 333.8h0M202.2 374h0M314.5 284.3h0M111.6 445.5h0M287.2 304.5h0M198 377.2h0M143.8 420.3h0M172.2 396.4h0M192.8 381.2h0M111.7 445.2h0M189.2 384.2h0M317.3 282.3h0M118.6 439.9h0M223.9 355.6h0M203.1 374.5h0M203.1 372.5h0M149.4 416h0M217.2 361.5h0M302.4 292.5h0M132.5 430.2h0M128.3 433.9h0M176.9 394.6h0M241.9 341.2h0M193.1 382h0M278.4 312.6h0M307 288.8h0M203.9 373.3h0M133.9 427.9h0M170.1 400.1h0" stroke="#0a45a6" stroke-width="2.6" stroke-linecap="round" fill="none"/>
<path d="M201.1 374.2h0M160 406.4h0M147.3 416.6h0M212.1 365.5h0M288.1 304.5h0M178.7 392.7h0M121.1 438.6h0M269.1 320.3h0M212.6 365.5h0M187.7 385.7h0M161.4 405.8h0M250.8 333h0M211.7 365.5h0M136.1 427.5h0M132.4 430.6h0M141.4 419.3h0M263.7 324.9h0M115.1 443.7h0M152.1 413.7h0M144.2 419.1h0M101.6 452.1h0M119.7 438.9h0M200.8 374.4h0M128.9 433.1h0M191.6 382.6h0M163.4 404.6h0M160.4 407.3h0M216.9 361.5h0M129 432.1h0M246.3 338.4h0M197.8 376.9h0M303.4 291.3h0M280.7 309.3h0M243.8 339.7h0M117.2 441.1h0M301.2 295.5h0M285.7 306.5h0M251 333.8h0M202.2 374h0M314.5 284.3h0M111.6 445.5h0M287.2 304.5h0M198 377.2h0M143.8 420.3h0M172.2 396.4h0M192.8 381.2h0M111.7 445.2h0M189.2 384.2h0M317.3 282.3h0M118.6 439.9h0M223.9 355.6h0M203.1 374.5h0M203.1 372.5h0M149.4 416h0M217.2 361.5h0M302.4 292.5h0M132.5 430.2h0M128.3 433.9h0M176.9 394.6h0M241.9 341.2h0M193.1 382h0M278.4 312.6h0M307 288.8h0M203.9 373.3h0M133.9 427.9h0M170.1 400.1h0" stroke="#1678d8" stroke-width="1.6" stroke-linecap="round" fill="none"/>
<path d="M129.4 431.6h0M217.1 360.7h0M299.4 294.8h0M234.4 348h0M113.8 444.8h0M261.9 325.6h0M146.5 417.3h0M124.7 435h0M248.9 337.2h0M243 340h0M268 319.9h0M125.5 435.5h0M235 347.4h0M235.8 345.8h0M160.4 405.6h0M199.8 375.6h0M319.7 280.4h0M205.9 371.4h0M148.7 414.1h0M192.4 380.5h0M252 333.5h0M261 326.4h0M210.8 367.4h0M169.7 399.8h0M305 290.8h0M99.4 456.5h0M201.9 372.9h0M148.8 416.5h0M225.9 354.5h0M142.9 421.5h0M137.2 426.1h0M202.1 373.4h0M320 279.6h0M264.2 325.6h0M231.8 350.4h0M276.5 312.5h0M187.2 384.3h0M146.8 418h0M132.5 430.4h0M171.3 398.7h0M107 448h0M149.3 415.2h0M190.2 382.9h0M138.6 425.5h0M133.1 427.8h0M196.3 379.5h0M125.9 433.1h0M241.7 342.5h0M135.4 426.6h0M219.6 358.5h0M187.4 385.8h0M205.4 370.4h0M204.2 370.5h0M191.3 382.7h0M123.1 437.2h0M117.7 442.5h0M278.5 311.4h0M250.8 334.3h0M318.9 278.2h0M264.5 324.4h0M215.5 362.8h0M102.1 455.4h0M180.1 390.4h0M231.1 350.7h0M107.5 450.7h0M277.8 311.5h0" stroke="#0a45a6" stroke-width="2.6" stroke-linecap="round" fill="none"/>
<path d="M129.4 431.6h0M217.1 360.7h0M299.4 294.8h0M234.4 348h0M113.8 444.8h0M261.9 325.6h0M146.5 417.3h0M124.7 435h0M248.9 337.2h0M243 340h0M268 319.9h0M125.5 435.5h0M235 347.4h0M235.8 345.8h0M160.4 405.6h0M199.8 375.6h0M319.7 280.4h0M205.9 371.4h0M148.7 414.1h0M192.4 380.5h0M252 333.5h0M261 326.4h0M210.8 367.4h0M169.7 399.8h0M305 290.8h0M99.4 456.5h0M201.9 372.9h0M148.8 416.5h0M225.9 354.5h0M142.9 421.5h0M137.2 426.1h0M202.1 373.4h0M320 279.6h0M264.2 325.6h0M231.8 350.4h0M276.5 312.5h0M187.2 384.3h0M146.8 418h0M132.5 430.4h0M171.3 398.7h0M107 448h0M149.3 415.2h0M190.2 382.9h0M138.6 425.5h0M133.1 427.8h0M196.3 379.5h0M125.9 433.1h0M241.7 342.5h0M135.4 426.6h0M219.6 358.5h0M187.4 385.8h0M205.4 370.4h0M204.2 370.5h0M191.3 382.7h0M123.1 437.2h0M117.7 442.5h0M278.5 311.4h0M250.8 334.3h0M318.9 278.2h0M264.5 324.4h0M215.5 362.8h0M102.1 455.4h0M180.1 390.4h0M231.1 350.7h0M107.5 450.7h0M277.8 311.5h0" stroke="#1678d8" stroke-width="1.6" stroke-linecap="round" fill="none"/>
<path d="M252.9 333h0M185.3 386.6h0M228 352.7h0M118.3 437.1h0M190.1 384.6h0M200.5 375.1h0M250.4 335h0M201.8 375h0M276.3 314.6h0M191 381.6h0M319.8 278h0M304.6 291h0M247.2 336.7h0M180.2 390.2h0M143.7 421.7h0M152.2 413.6h0M127.9 434.3h0M202.5 372.5h0M129 432h0M123.3 436.6h0M100.1 456h0M148.7 417.4h0M183.3 387.6h0M245.8 339h0M198.9 377h0M273.6 316h0M184 387.7h0M260.8 327.1h0M132.1 429.4h0M164.4 404.8h0M303.4 291.8h0M200.3 376.1h0M121.3 438.9h0M276.8 314.8h0M130.2 431.8h0M195 379.3h0M287.6 304.6h0M147.5 417.2h0M129.7 431.8h0M266.8 321.6h0M176.6 394.1h0M252.9 333.1h0M186.7 387h0M135.7 424.4h0M271.7 316.9h0M120.7 439.1h0M203.7 371.4h0M136.7 426.5h0M156.6 412.4h0M238 346.1h0M262.2 325.6h0M130.6 430.8h0M198.8 377.1h0M249.7 334.8h0M146.4 418.3h0M252.9 332.3h0M299.2 295.6h0M318.4 280.7h0M183.4 389.2h0M216.5 362.1h0M251 334.1h0M204 372.3h0M200.7 374h0M146.5 418.9h0M243.1 341.3h0M122.8 436.1h0" stroke="#0a45a6" stroke-width="2.6" stroke-linecap="round" fill="none"/>
<path d="M252.9 333h0M185.3 386.6h0M228 352.7h0M118.3 437.1h0M190.1 384.6h0M200.5 375.1h0M250.4 335h0M201.8 375h0M276.3 314.6h0M191 381.6h0M319.8 278h0M304.6 291h0M247.2 336.7h0M180.2 390.2h0M143.7 421.7h0M152.2 413.6h0M127.9 434.3h0M202.5 372.5h0M129 432h0M123.3 436.6h0M100.1 456h0M148.7 417.4h0M183.3 387.6h0M245.8 339h0M198.9 377h0M273.6 316h0M184 387.7h0M260.8 327.1h0M132.1 429.4h0M164.4 404.8h0M303.4 291.8h0M200.3 376.1h0M121.3 438.9h0M276.8 314.8h0M130.2 431.8h0M195 379.3h0M287.6 304.6h0M147.5 417.2h0M129.7 431.8h0M266.8 321.6h0M176.6 394.1h0M252.9 333.1h0M186.7 387h0M135.7 424.4h0M271.7 316.9h0M120.7 439.1h0M203.7 371.4h0M136.7 426.5h0M156.6 412.4h0M238 346.1h0M262.2 325.6h0M130.6 430.8h0M198.8 377.1h0M249.7 334.8h0M146.4 418.3h0M252.9 332.3h0M299.2 295.6h0M318.4 280.7h0M183.4 389.2h0M216.5 362.1h0M251 334.1h0M204 372.3h0M200.7 374h0M146.5 418.9h0M243.1 341.3h0M122.8 436.1h0" stroke="#1678d8" stroke-width="1.6" stroke-linecap="round" fill="none"/>
<path d="M98.9 457h0M163.1 403.9h0M263 325h0M167.1 401.4h0M220.6 359.5h0M146 419.1h0M142.7 419.5h0M290.9 302.9h0M246.9 337.3h0M121.1 436.7h0M260.1 325.9h0M175.1 395.5h0M138.9 424.7h0M211.8 366h0M311.6 285.8h0M310.8 284.6h0M205.2 371h0M192.3 383.3h0M200.9 375.3h0M313.7 286.6h0M189.5 383.7h0M231.9 350.2h0M315.1 281.7h0M228.9 351.7h0M142.2 424h0M141.9 424.2h0M253.2 333.4h0M284.5 306.8h0M277 314.6h0M207.2 369.8h0M280 310.4h0M200 375.5h0M191.8 383.9h0M145.9 417h0M148.6 415.4h0M298.3 296.9h0M146 417.4h0M176.3 394.9h0M244.8 339.4h0M201.8 374.3h0M273.4 316.9h0M192.5 382.5h0M179.9 392h0M189.6 385.2h0M306.7 289.9h0M105.2 451.1h0M188.7 384.9h0M172.7 396.7h0M175.7 395.1h0M131.8 430.9h0M135.4 427.4h0M176.8 393.4h0M187.4 385.7h0M184.1 388h0M264.8 322.2h0M211 366.6h0M172.5 397.9h0M242.4 340.5h0M154.5 413.1h0M200.1 375.5h0M132.5 428.8h0M174.7 396.5h0M305.8 290.7h0M190.9 380.7h0M301.1 293.2h0" stroke="#0a45a6" stroke-width="2.6" stroke-linecap="round" fill="none"/>
<path d="M98.9 457h0M163.1 403.9h0M263 325h0M167.1 401.4h0M220.6 359.5h0M146 419.1h0M142.7 419.5h0M290.9 302.9h0M246.9 337.3h0M121.1 436.7h0M260.1 325.9h0M175.1 395.5h0M138.9 424.7h0M211.8 366h0M311.6 285.8h0M310.8 284.6h0M205.2 371h0M192.3 383.3h0M200.9 375.3h0M313.7 286.6h0M189.5 383.7h0M231.9 350.2h0M315.1 281.7h0M228.9 351.7h0M142.2 424h0M141.9 424.2h0M253.2 333.4h0M284.5 306.8h0M277 314.6h0M207.2 369.8h0M280 310.4h0M200 375.5h0M191.8 383.9h0M145.9 417h0M148.6 415.4h0M298.3 296.9h0M146 417.4h0M176.3 394.9h0M244.8 339.4h0M201.8 374.3h0M273.4 316.9h0M192.5 382.5h0M179.9 392h0M189.6 385.2h0M306.7 289.9h0M105.2 451.1h0M188.7 384.9h0M172.7 396.7h0M175.7 395.1h0M131.8 430.9h0M135.4 427.4h0M176.8 393.4h0M187.4 385.7h0M184.1 388h0M264.8 322.2h0M211 366.6h0M172.5 397.9h0M242.4 340.5h0M154.5 413.1h0M200.1 375.5h0M132.5 428.8h0M174.7 396.5h0M305.8 290.7h0M190.9 380.7h0M301.1 293.2h0" stroke="#1678d8" stroke-width="1.6" stroke-linecap="round" fill="none"/>
<path d="M204.8 371.5h0M284.7 307.1h0M141.8 421.7h0M312.3 285.3h0M286.5 306.2h0M111.5 446.7h0M207.8 368.2h0M277.1 314.6h0M175.4 395.3h0M263.5 325.8h0M195.9 379h0M109.7 445.8h0M301.7 294.1h0M149.7 415.9h0M128.9 431h0M176.3 393.8h0M125 436.5h0M266 320.7h0M262.5 325.7h0M162.1 407.1h0M205 371.4h0M222.9 357.3h0M205.8 369.4h0M115.5 443.2h0M224.2 355.8h0M230 352h0M175.9 393.9h0M148.4 414.2h0M135.9 428.1h0M264.7 323.9h0M250.9 333.3h0M261.7 327.1h0M102.9 452.2h0M204.1 371.9h0M183.6 389.2h0M207 369.8h0M268.4 320.2h0M232.5 349.3h0M111.6 451.4h0M260.2 327.7h0M98.2 453h0M272.9 317.8h0M183.4 387.7h0M136.1 426.3h0M253 333h0M143.5 420.2h0M213.3 364.8h0M312.8 285.4h0M319.1 279h0M187.7 386h0M116.1 443h0M114.5 443.7h0M145.9 418.5h0M287.9 303.7h0M189.4 382.9h0M252.4 332.4h0M210.4 367.2h0M205.1 370.6h0M195.8 378.8h0M102 453.2h0M288 305h0M171.8 398.2h0M117.7 443.3h0M143 422.3h0M148.4 412.7h0" stroke="#0a45a6" stroke-width="2.6" stroke-linecap="round" fill="none"/>
<path d="M204.8 371.5h0M284.7 307.1h0M141.8 421.7h0M312.3 285.3h0M286.5 306.2h0M111.5 446.7h0M207.8 368.2h0M277.1 314.6h0M175.4 395.3h0M263.5 325.8h0M195.9 379h0M109.7 445.8h0M301.7 294.1h0M149.7 415.9h0M128.9 431h0M176.3 393.8h0M125 436.5h0M266 320.7h0M262.5 325.7h0M162.1 407.1h0M205 371.4h0M222.9 357.3h0M205.8 369.4h0M115.5 443.2h0M224.2 355.8h0M230 352h0M175.9 393.9h0M148.4 414.2h0M135.9 428.1h0M264.7 323.9h0M250.9 333.3h0M261.7 327.1h0M102.9 452.2h0M204.1 371.9h0M183.6 389.2h0M207 369.8h0M268.4 320.2h0M232.5 349.3h0M111.6 451.4h0M260.2 327.7h0M98.2 453h0M272.9 317.8h0M183.4 387.7h0M136.1 426.3h0M253 333h0M143.5 420.2h0M213.3 364.8h0M312.8 285.4h0M319.1 279h0M187.7 386h0M116.1 443h0M114.5 443.7h0M145.9 418.5h0M287.9 303.7h0M189.4 382.9h0M252.4 332.4h0M210.4 367.2h0M205.1 370.6h0M195.8 378.8h0M102 453.2h0M288 305h0M171.8 398.2h0M117.7 443.3h0M143 422.3h0M148.4 412.7h0" stroke="#1678d8" stroke-width="1.6" stroke-linecap="round" fill="none"/>
</g>
<rect x="56" y="274.5" width="269.5" height="216.5" fill="none" stroke="#000" stroke-width="1.7"/>
<path d="M109.9 491v-3.5M163.8 491v-3.5M217.7 491v-3.5M271.6 491v-3.5M56 447.7h3.5M56 404.4h3.5M56 361.1h3.5M56 317.8h3.5" stroke="#000" stroke-width="1.5" fill="none"/>
<text class="t" font-size="12.51" x="56" y="510.8" text-anchor="middle">-300</text>
<text class="t" font-size="12.51" x="109.9" y="510.8" text-anchor="middle">-200</text>
<text class="t" font-size="12.51" x="163.8" y="510.8" text-anchor="middle">-100</text>
<text class="t" font-size="12.51" x="217.7" y="510.8" text-anchor="middle">0</text>
<text class="t" font-size="12.51" x="271.6" y="510.8" text-anchor="middle">100</text>
<text class="t" font-size="12.51" x="325.5" y="510.8" text-anchor="middle">200</text>
<text class="t" font-size="12.51" x="45" y="495.1" text-anchor="end">-300</text>
<text class="t" font-size="12.51" x="45" y="451.8" text-anchor="end">-200</text>
<text class="t" font-size="12.51" x="45" y="408.5" text-anchor="end">-100</text>
<text class="t" font-size="12.51" x="45" y="365.2" text-anchor="end">0</text>
<text class="t" font-size="12.51" x="45" y="321.9" text-anchor="end">100</text>
<text class="t" font-size="12.51" x="45" y="278.6" text-anchor="end">200</text>
<text class="b" font-size="12.51" x="202.1" y="527.6" text-anchor="middle">Observed OHC (ZJ)</text>
<text class="b" font-size="12.51" transform="translate(15.7 368) rotate(-90)" text-anchor="middle">Predicted OHC (ZJ)</text>
<text class="l" font-size="12.51" x="63" y="288.2">c)</text>
<line x1="254" y1="462.5" x2="289" y2="462.5" stroke="#111" stroke-width="2" stroke-dasharray="3.8 2.1"/>
<text class="b" font-size="12.51" x="293" y="467">± 10</text>
<text class="b" font-size="12.51" x="254" y="480.6">R<tspan font-size="9.76" dy="-3.6">2</tspan><tspan dy="3.6">=0.9986</tspan></text>
</g>
<g id="panel-d">
<clipPath id="cd"><rect x="404" y="279.5" width="265" height="213.2"/></clipPath>
<g clip-path="url(#cd)">
<line x1="404" y1="492.7" x2="669" y2="279.5" stroke="#e50a0e" stroke-width="2.2"/>
<line x1="404" y1="479.9" x2="669" y2="288" stroke="#16100c" stroke-width="1.8" stroke-dasharray="4.8 3.8"/>
<line x1="404" y1="505.5" x2="669" y2="271" stroke="#16100c" stroke-width="1.8" stroke-dasharray="4.8 3.8"/>
<path d="M562.8 364.9h0M587.9 343.7h0M553 372.5h0M598.4 337h0M548.5 376.2h0M485.1 427.8h0M470.4 438.6h0M463.3 445.5h0M502.4 412.9h0M535.8 385.8h0M580.1 350.5h0M540 384.5h0M533.3 388h0M536.9 386.8h0M561.8 365.9h0M527.2 393.5h0M549.8 375.2h0M507.3 407.9h0M512.8 406h0M460.5 446.9h0M525.6 395.3h0M472.4 437.7h0M471.7 437.4h0M476.9 434.2h0M591.2 343.6h0M501.1 416h0M568.1 360.6h0M544.4 379.8h0M527.2 393.8h0M529.7 391.3h0M580.8 349.4h0M487.9 425.1h0M546.7 377.5h0M523.5 397.7h0M538.5 385.3h0M473.3 437.7h0M592.1 340.6h0M600.3 335.2h0M593.4 340.5h0M464.8 443.7h0M559 367.7h0M557.5 369.4h0M511.1 406.3h0M481.3 432.4h0M520.2 399.7h0M504.5 411.4h0M607.2 328.4h0M530.1 391.3h0M483.4 429.7h0M508.8 408.2h0M568 361h0M547.2 377.5h0M479.2 431.8h0M553.9 371.9h0M541.3 381.7h0M503.1 412.9h0M470.4 439.4h0M527.8 393.5h0M503.4 412.8h0M585.2 347.4h0M588 344.3h0M537.2 385.7h0M503.6 411.9h0M493.6 420.2h0M453.2 455h0M538.9 384h0M484.3 426.6h0M461.1 447.3h0M517.1 402.4h0M472.6 438.3h0M456.8 449h0M490.9 422.2h0M551 373.5h0M462.9 444.1h0M462.9 446.3h0M599.9 336.1h0M463.7 443.5h0M470.1 442.2h0M528.9 391h0M576 354.2h0M482.6 428.4h0M570.7 358.6h0M474.7 435.4h0M529 392.1h0M502.2 413.6h0M463.6 445h0M528.7 392h0M604.2 331.6h0M460.6 447h0M485.6 426.3h0M528.7 392.1h0M500.9 413.8h0M508.4 408.6h0M515 403.4h0M498.4 419.8h0M493.7 419.8h0M498.9 416.4h0M497.4 418.5h0M604.5 332.1h0M571.2 356.9h0M528.2 393.1h0M453 451.7h0M581.1 350.1h0M548.8 376.4h0M551.5 374.1h0M474 435.1h0M456.7 450.1h0M474.6 435.4h0M520.9 399.9h0M479.1 431.7h0M586.2 346.8h0M506.5 410.1h0M464.2 444.9h0M478.1 432.7h0M487.6 427.1h0M460.7 446.9h0M526.3 394.1h0M467.8 439.5h0M532.8 388.8h0M578.7 352.4h0M523.3 397.1h0M550.6 375h0" stroke="#0a45a6" stroke-width="2.4" stroke-linecap="round" fill="none"/>
<path d="M562.8 364.9h0M587.9 343.7h0M553 372.5h0M598.4 337h0M548.5 376.2h0M485.1 427.8h0M470.4 438.6h0M463.3 445.5h0M502.4 412.9h0M535.8 385.8h0M580.1 350.5h0M540 384.5h0M533.3 388h0M536.9 386.8h0M561.8 365.9h0M527.2 393.5h0M549.8 375.2h0M507.3 407.9h0M512.8 406h0M460.5 446.9h0M525.6 395.3h0M472.4 437.7h0M471.7 437.4h0M476.9 434.2h0M591.2 343.6h0M501.1 416h0M568.1 360.6h0M544.4 379.8h0M527.2 393.8h0M529.7 391.3h0M580.8 349.4h0M487.9 425.1h0M546.7 377.5h0M523.5 397.7h0M538.5 385.3h0M473.3 437.7h0M592.1 340.6h0M600.3 335.2h0M593.4 340.5h0M464.8 443.7h0M559 367.7h0M557.5 369.4h0M511.1 406.3h0M481.3 432.4h0M520.2 399.7h0M504.5 411.4h0M607.2 328.4h0M530.1 391.3h0M483.4 429.7h0M508.8 408.2h0M568 361h0M547.2 377.5h0M479.2 431.8h0M553.9 371.9h0M541.3 381.7h0M503.1 412.9h0M470.4 439.4h0M527.8 393.5h0M503.4 412.8h0M585.2 347.4h0M588 344.3h0M537.2 385.7h0M503.6 411.9h0M493.6 420.2h0M453.2 455h0M538.9 384h0M484.3 426.6h0M461.1 447.3h0M517.1 402.4h0M472.6 438.3h0M456.8 449h0M490.9 422.2h0M551 373.5h0M462.9 444.1h0M462.9 446.3h0M599.9 336.1h0M463.7 443.5h0M470.1 442.2h0M528.9 391h0M576 354.2h0M482.6 428.4h0M570.7 358.6h0M474.7 435.4h0M529 392.1h0M502.2 413.6h0M463.6 445h0M528.7 392h0M604.2 331.6h0M460.6 447h0M485.6 426.3h0M528.7 392.1h0M500.9 413.8h0M508.4 408.6h0M515 403.4h0M498.4 419.8h0M493.7 419.8h0M498.9 416.4h0M497.4 418.5h0M604.5 332.1h0M571.2 356.9h0M528.2 393.1h0M453 451.7h0M581.1 350.1h0M548.8 376.4h0M551.5 374.1h0M474 435.1h0M456.7 450.1h0M474.6 435.4h0M520.9 399.9h0M479.1 431.7h0M586.2 346.8h0M506.5 410.1h0M464.2 444.9h0M478.1 432.7h0M487.6 427.1h0M460.7 446.9h0M526.3 394.1h0M467.8 439.5h0M532.8 388.8h0M578.7 352.4h0M523.3 397.1h0M550.6 375h0" stroke="#1678d8" stroke-width="1.5" stroke-linecap="round" fill="none"/>
<path d="M495.9 417.9h0M463.9 444.8h0M559 368.3h0M556.4 370.3h0M512.5 403.3h0M536.5 386h0M469.5 438h0M470.6 438.5h0M560.3 366.5h0M496.7 418.1h0M569.4 359.1h0M477.9 432.2h0M523.2 395.4h0M454.6 452.2h0M579.3 352.5h0M476.8 434.2h0M497.6 416.6h0M532.1 387.5h0M535.5 385.9h0M578.5 352.5h0M583.3 348.9h0M514.4 403.5h0M581.1 350.4h0M493 421.4h0M468.5 438.8h0M512.3 405.2h0M500 414.9h0M559.2 367.4h0M539.8 382.9h0M589.1 344.4h0M553.2 373h0M489.2 423.8h0M531.4 388.1h0M475.1 436.8h0M597.2 337.5h0M473.4 436.7h0M467.2 439.9h0M496.2 418.8h0M512.1 406h0M535.2 387.7h0M466.6 442.9h0M536 385.7h0M539.3 383.5h0M525.5 394.8h0M486.6 425.1h0M497.6 417.8h0M557.3 369.6h0M518.2 401.1h0M470.3 439.2h0M604.3 333.2h0M477.4 435.5h0M457.4 450.1h0M465.9 442.8h0M519.1 400.4h0M519.3 399.6h0M594 339.3h0M462.3 445.5h0M557.8 369h0M458.8 446.4h0M585.2 346.6h0M601.1 333.1h0M530.1 391.4h0M533.3 387.6h0M466.2 443.8h0M462.1 446.6h0M509.6 406.5h0M482.4 429.9h0M590.6 343.1h0M463.9 445.5h0M549.3 376.3h0M551.6 373.5h0M530.3 392.6h0M571.4 356.3h0M546.4 377.9h0M589.5 343.3h0M476.3 436.8h0M581.2 350.3h0M488 424h0M602 332.8h0M595.2 339.6h0M513.9 404.2h0M504.5 412.4h0M541.9 381.9h0M488.5 423.8h0M535.1 387.3h0M526.4 393.3h0M492.3 421.8h0M514.7 403.4h0M580.3 350.4h0M501.6 414.1h0M461.5 447.3h0M497.4 416.3h0M494.1 418.9h0M466.6 442.2h0M574.2 354.5h0M590.9 342.7h0M575.7 354.8h0M542.7 381.5h0M457.3 449.3h0M572.6 356.8h0M530 391.5h0M480.7 433.4h0M453 452.5h0M543 381h0M492.9 419.3h0M486.9 424.7h0M524.9 395.2h0M538.5 384.9h0M467.4 444.6h0M549.5 375h0M460.7 447.4h0M474.7 435.1h0M483.4 426.6h0M488.9 422.7h0M470.7 439.5h0M514.8 403h0M455.4 451.3h0M520.8 398.9h0M551.6 374.4h0M458.8 449.4h0M577.7 352.5h0M487.8 425.2h0" stroke="#0a45a6" stroke-width="2.4" stroke-linecap="round" fill="none"/>
<path d="M495.9 417.9h0M463.9 444.8h0M559 368.3h0M556.4 370.3h0M512.5 403.3h0M536.5 386h0M469.5 438h0M470.6 438.5h0M560.3 366.5h0M496.7 418.1h0M569.4 359.1h0M477.9 432.2h0M523.2 395.4h0M454.6 452.2h0M579.3 352.5h0M476.8 434.2h0M497.6 416.6h0M532.1 387.5h0M535.5 385.9h0M578.5 352.5h0M583.3 348.9h0M514.4 403.5h0M581.1 350.4h0M493 421.4h0M468.5 438.8h0M512.3 405.2h0M500 414.9h0M559.2 367.4h0M539.8 382.9h0M589.1 344.4h0M553.2 373h0M489.2 423.8h0M531.4 388.1h0M475.1 436.8h0M597.2 337.5h0M473.4 436.7h0M467.2 439.9h0M496.2 418.8h0M512.1 406h0M535.2 387.7h0M466.6 442.9h0M536 385.7h0M539.3 383.5h0M525.5 394.8h0M486.6 425.1h0M497.6 417.8h0M557.3 369.6h0M518.2 401.1h0M470.3 439.2h0M604.3 333.2h0M477.4 435.5h0M457.4 450.1h0M465.9 442.8h0M519.1 400.4h0M519.3 399.6h0M594 339.3h0M462.3 445.5h0M557.8 369h0M458.8 446.4h0M585.2 346.6h0M601.1 333.1h0M530.1 391.4h0M533.3 387.6h0M466.2 443.8h0M462.1 446.6h0M509.6 406.5h0M482.4 429.9h0M590.6 343.1h0M463.9 445.5h0M549.3 376.3h0M551.6 373.5h0M530.3 392.6h0M571.4 356.3h0M546.4 377.9h0M589.5 343.3h0M476.3 436.8h0M581.2 350.3h0M488 424h0M602 332.8h0M595.2 339.6h0M513.9 404.2h0M504.5 412.4h0M541.9 381.9h0M488.5 423.8h0M535.1 387.3h0M526.4 393.3h0M492.3 421.8h0M514.7 403.4h0M580.3 350.4h0M501.6 414.1h0M461.5 447.3h0M497.4 416.3h0M494.1 418.9h0M466.6 442.2h0M574.2 354.5h0M590.9 342.7h0M575.7 354.8h0M542.7 381.5h0M457.3 449.3h0M572.6 356.8h0M530 391.5h0M480.7 433.4h0M453 452.5h0M543 381h0M492.9 419.3h0M486.9 424.7h0M524.9 395.2h0M538.5 384.9h0M467.4 444.6h0M549.5 375h0M460.7 447.4h0M474.7 435.1h0M483.4 426.6h0M488.9 422.7h0M470.7 439.5h0M514.8 403h0M455.4 451.3h0M520.8 398.9h0M551.6 374.4h0M458.8 449.4h0M577.7 352.5h0M487.8 425.2h0" stroke="#1678d8" stroke-width="1.5" stroke-linecap="round" fill="none"/>
<path d="M490.9 423.7h0M499.5 416.4h0M593.1 340.6h0M514.6 403.4h0M558.5 368.8h0M569.1 360.5h0M466.4 442.1h0M524.9 394.6h0M530.8 390.9h0M578.9 351.5h0M524.7 395.9h0M460.2 448.9h0M467.9 441.8h0M476.5 434.8h0M460.6 448h0M579.7 350.8h0M458.1 448h0M463.4 444h0M523.2 397.6h0M510.9 405.6h0M584.3 347.2h0M464.2 444.5h0M528.9 392.6h0M571.4 357.3h0M483.5 426.5h0M492 421.9h0M473 438.8h0M484.8 427.8h0M468.3 439.5h0M548.7 376.6h0M558.7 368.7h0M490.1 423.4h0M490.6 424.6h0M496.3 418.3h0M504.5 410.5h0M559.3 367.6h0M530.8 391h0M555.9 370.6h0M606 329.3h0M459.7 446.8h0M511.3 406h0M490.6 421.3h0M509.6 408.9h0M546.5 377.3h0M511 406.7h0M595.6 339.3h0M468.9 439.7h0M541.4 381.4h0M554.5 371.6h0M608.3 327.7h0M486.5 426.7h0M483.3 428.6h0M489.5 422.7h0M525.9 394.2h0M516.8 402.4h0M598.9 336.4h0M476.5 433.3h0M501.4 413.8h0M453.8 453.3h0M486.1 427.4h0M569.6 359.2h0M469.7 441.4h0M495.2 418.6h0M532.7 389.6h0M478 434.1h0M496.7 419.3h0M493.3 421.7h0M594.2 339.7h0M480.2 431.3h0M490.4 422.2h0M594.8 338.8h0M511.8 405.7h0M503.9 411.1h0M531.5 390.7h0M461 449.8h0M473.3 436.3h0M468.5 441.5h0M479 432.4h0M493.9 421.3h0M578.1 352.6h0M473.7 436.3h0M545.3 378.6h0M594.9 340.1h0M478.9 433.4h0M515.4 403.8h0M559.6 368h0M513.2 404.9h0M467.5 442.3h0M475.6 437h0M489.2 424.8h0M486.2 426.9h0M535.5 386.4h0M457.6 448.7h0M599.9 334.7h0M474.6 435.4h0M532.1 389.4h0M578 353.9h0M517.9 402.6h0M500.5 413.4h0M486.9 426.2h0M536.1 386.9h0M599.1 336h0M586.2 348.2h0M460 448.5h0M572.5 357.6h0M494.6 417.5h0M546 377.8h0M550.6 374.5h0M539.1 385.1h0M455.3 450.3h0M463.9 444.8h0M464.7 447h0M505.9 410.5h0M476 434.7h0M485.7 427.2h0M580.4 350.5h0M534.9 386.8h0M594.2 339.3h0M575.3 353.7h0M487.6 426h0M474.9 436.6h0M478.5 433.4h0" stroke="#0a45a6" stroke-width="2.4" stroke-linecap="round" fill="none"/>
<path d="M490.9 423.7h0M499.5 416.4h0M593.1 340.6h0M514.6 403.4h0M558.5 368.8h0M569.1 360.5h0M466.4 442.1h0M524.9 394.6h0M530.8 390.9h0M578.9 351.5h0M524.7 395.9h0M460.2 448.9h0M467.9 441.8h0M476.5 434.8h0M460.6 448h0M579.7 350.8h0M458.1 448h0M463.4 444h0M523.2 397.6h0M510.9 405.6h0M584.3 347.2h0M464.2 444.5h0M528.9 392.6h0M571.4 357.3h0M483.5 426.5h0M492 421.9h0M473 438.8h0M484.8 427.8h0M468.3 439.5h0M548.7 376.6h0M558.7 368.7h0M490.1 423.4h0M490.6 424.6h0M496.3 418.3h0M504.5 410.5h0M559.3 367.6h0M530.8 391h0M555.9 370.6h0M606 329.3h0M459.7 446.8h0M511.3 406h0M490.6 421.3h0M509.6 408.9h0M546.5 377.3h0M511 406.7h0M595.6 339.3h0M468.9 439.7h0M541.4 381.4h0M554.5 371.6h0M608.3 327.7h0M486.5 426.7h0M483.3 428.6h0M489.5 422.7h0M525.9 394.2h0M516.8 402.4h0M598.9 336.4h0M476.5 433.3h0M501.4 413.8h0M453.8 453.3h0M486.1 427.4h0M569.6 359.2h0M469.7 441.4h0M495.2 418.6h0M532.7 389.6h0M478 434.1h0M496.7 419.3h0M493.3 421.7h0M594.2 339.7h0M480.2 431.3h0M490.4 422.2h0M594.8 338.8h0M511.8 405.7h0M503.9 411.1h0M531.5 390.7h0M461 449.8h0M473.3 436.3h0M468.5 441.5h0M479 432.4h0M493.9 421.3h0M578.1 352.6h0M473.7 436.3h0M545.3 378.6h0M594.9 340.1h0M478.9 433.4h0M515.4 403.8h0M559.6 368h0M513.2 404.9h0M467.5 442.3h0M475.6 437h0M489.2 424.8h0M486.2 426.9h0M535.5 386.4h0M457.6 448.7h0M599.9 334.7h0M474.6 435.4h0M532.1 389.4h0M578 353.9h0M517.9 402.6h0M500.5 413.4h0M486.9 426.2h0M536.1 386.9h0M599.1 336h0M586.2 348.2h0M460 448.5h0M572.5 357.6h0M494.6 417.5h0M546 377.8h0M550.6 374.5h0M539.1 385.1h0M455.3 450.3h0M463.9 444.8h0M464.7 447h0M505.9 410.5h0M476 434.7h0M485.7 427.2h0M580.4 350.5h0M534.9 386.8h0M594.2 339.3h0M575.3 353.7h0M487.6 426h0M474.9 436.6h0M478.5 433.4h0" stroke="#1678d8" stroke-width="1.5" stroke-linecap="round" fill="none"/>
<path d="M600.9 334.5h0M569.1 360.5h0M558.8 367.6h0M548.7 376.8h0M481.6 428.8h0M472.6 438.2h0M576.7 353.7h0M532.1 389.3h0M549.4 375.7h0M456.6 450.9h0M460.6 444.8h0M460.8 443.8h0M547.8 376.8h0M551 374.4h0M548.3 376.9h0M485.5 427.2h0M476.3 435.5h0M482.1 430.1h0M458.3 449.9h0M486.9 426h0M545.3 378.9h0M466.2 443.2h0M528.6 391.4h0M459.5 450.8h0M528.8 392.4h0M538.7 384.6h0M456.9 450.7h0M492.8 421h0M455.4 450.1h0M575.6 354.1h0M566.1 361.9h0M497.9 415.6h0M494.7 419.2h0M500.8 414.6h0M487.8 426.8h0M592.3 341.4h0M504.2 412.1h0M479.5 432.4h0M476.3 433.2h0M510.6 406.9h0M523.1 397.2h0M537 386.6h0M495.6 416.8h0M574.6 356.2h0M565.7 362.2h0M486.5 426.8h0M582.9 348.6h0M497.7 416.8h0M487.8 424.8h0M464.6 443.3h0M470 440.7h0M459.1 448.4h0M588.1 343.8h0M490.2 422.6h0M496.9 418.1h0M512.9 405.4h0M532.9 388.9h0M493.9 421.2h0M454.9 451.8h0M473.5 436.4h0M601.8 333.7h0M554.2 371.7h0M605.1 330.8h0M569.2 360.1h0M605.4 330.1h0M593.2 340h0M478.1 434.5h0M463.2 443.2h0M526.3 393.8h0M463.1 444.5h0M509.8 408.1h0M501.7 415.5h0M517.9 401.1h0M522.5 396.5h0M491.9 421.3h0M578.2 352.9h0M482.6 429.5h0M534.8 386.8h0M492.2 421.4h0M585.8 345.9h0M559.9 368.3h0M462.6 446.2h0M573.3 356.6h0M540 382.9h0M532.2 389.9h0M592 341.2h0M520.8 398.6h0M489 424.5h0M548.1 376.6h0M465.2 442.8h0M576.1 354.8h0M589.7 343.8h0M610.2 327h0M492.7 422.3h0M490 425.1h0M517.6 400.7h0M546.5 378.5h0M457.5 449.9h0M471.9 436.5h0M496.2 418.6h0M456.9 449.8h0M515.4 401.8h0M467.5 441.8h0M457.5 447.6h0M458.3 449.3h0M539.2 384h0M575.6 354.8h0M466.4 444.2h0M530.7 390.8h0M488.9 424.9h0M587.7 346.1h0M519 400.7h0M523.7 396h0M525.1 396.2h0M477.4 432.1h0M470.2 439.2h0M509.2 408.7h0M531.7 391.1h0M506 410.6h0M475.3 435.6h0M457.3 449.7h0M455.5 450.8h0" stroke="#0a45a6" stroke-width="2.4" stroke-linecap="round" fill="none"/>
<path d="M600.9 334.5h0M569.1 360.5h0M558.8 367.6h0M548.7 376.8h0M481.6 428.8h0M472.6 438.2h0M576.7 353.7h0M532.1 389.3h0M549.4 375.7h0M456.6 450.9h0M460.6 444.8h0M460.8 443.8h0M547.8 376.8h0M551 374.4h0M548.3 376.9h0M485.5 427.2h0M476.3 435.5h0M482.1 430.1h0M458.3 449.9h0M486.9 426h0M545.3 378.9h0M466.2 443.2h0M528.6 391.4h0M459.5 450.8h0M528.8 392.4h0M538.7 384.6h0M456.9 450.7h0M492.8 421h0M455.4 450.1h0M575.6 354.1h0M566.1 361.9h0M497.9 415.6h0M494.7 419.2h0M500.8 414.6h0M487.8 426.8h0M592.3 341.4h0M504.2 412.1h0M479.5 432.4h0M476.3 433.2h0M510.6 406.9h0M523.1 397.2h0M537 386.6h0M495.6 416.8h0M574.6 356.2h0M565.7 362.2h0M486.5 426.8h0M582.9 348.6h0M497.7 416.8h0M487.8 424.8h0M464.6 443.3h0M470 440.7h0M459.1 448.4h0M588.1 343.8h0M490.2 422.6h0M496.9 418.1h0M512.9 405.4h0M532.9 388.9h0M493.9 421.2h0M454.9 451.8h0M473.5 436.4h0M601.8 333.7h0M554.2 371.7h0M605.1 330.8h0M569.2 360.1h0M605.4 330.1h0M593.2 340h0M478.1 434.5h0M463.2 443.2h0M526.3 393.8h0M463.1 444.5h0M509.8 408.1h0M501.7 415.5h0M517.9 401.1h0M522.5 396.5h0M491.9 421.3h0M578.2 352.9h0M482.6 429.5h0M534.8 386.8h0M492.2 421.4h0M585.8 345.9h0M559.9 368.3h0M462.6 446.2h0M573.3 356.6h0M540 382.9h0M532.2 389.9h0M592 341.2h0M520.8 398.6h0M489 424.5h0M548.1 376.6h0M465.2 442.8h0M576.1 354.8h0M589.7 343.8h0M610.2 327h0M492.7 422.3h0M490 425.1h0M517.6 400.7h0M546.5 378.5h0M457.5 449.9h0M471.9 436.5h0M496.2 418.6h0M456.9 449.8h0M515.4 401.8h0M467.5 441.8h0M457.5 447.6h0M458.3 449.3h0M539.2 384h0M575.6 354.8h0M466.4 444.2h0M530.7 390.8h0M488.9 424.9h0M587.7 346.1h0M519 400.7h0M523.7 396h0M525.1 396.2h0M477.4 432.1h0M470.2 439.2h0M509.2 408.7h0M531.7 391.1h0M506 410.6h0M475.3 435.6h0M457.3 449.7h0M455.5 450.8h0" stroke="#1678d8" stroke-width="1.5" stroke-linecap="round" fill="none"/>
<path d="M546.5 378.8h0M607.7 328.1h0M591.4 341.8h0M566.8 362h0M600.1 334.6h0M546 379.8h0M599.9 336.1h0M468.7 440.9h0M551.1 374h0M472.2 436.2h0M457.2 450.9h0M583.6 348h0M503.4 412.5h0M458.1 450.2h0M464.9 442.9h0M521.5 398.6h0M505.4 411.8h0M544.6 380.4h0M522.5 397.1h0M524.8 396.1h0M501.6 413.2h0M548.8 375.1h0M485 428.4h0M529.1 390.9h0M473.5 438.1h0M502.8 412.1h0M460.6 446.8h0M477.6 433.1h0M548.9 376.7h0M541.9 381.4h0M488.3 426h0M515.2 403.2h0M610.5 326.7h0M494.8 419.8h0M455.5 453.9h0M588.8 343.8h0M504.4 412.4h0M523.3 396.3h0M558.7 368.3h0M539.5 383.8h0M476.5 433.1h0M607.6 328.7h0M476 434.2h0M478.8 431.7h0M485.1 427h0M518.1 401.8h0M589.6 343.4h0M554.8 370.2h0M470.7 436.4h0M548.8 375.7h0M518.6 399.3h0M537.1 385.9h0M471.1 439.3h0M570.2 359.2h0M589.4 343.7h0M532.4 391h0M534.1 388.7h0M510.8 405.3h0M558.9 368.4h0M578.4 352.6h0M542.9 380.8h0M488.5 424h0M501.1 414.8h0M516.3 401.6h0M592.7 341.4h0M610.3 327.4h0M460.4 446.6h0M501.2 414.4h0M551.9 373.9h0M567 361.7h0M476.1 434.6h0M561.9 366.2h0M483.3 428.5h0M504.7 411.5h0M580.8 351.8h0M483.2 428.5h0M591.1 340.8h0M518.1 400.2h0M497.7 416.6h0M466 442.2h0M483.4 428.7h0M460.6 447.4h0M557.7 369.4h0M507.1 409.6h0M566.8 361.5h0M603.3 332.2h0M545.2 378.7h0M473.8 434.6h0M555.1 371.6h0M479.9 432.3h0M461.9 447h0M524.1 394.8h0M595.9 338.1h0M534.1 389.5h0M560.5 366.8h0M481.9 430.9h0M484.7 427.5h0M610.2 326.5h0M603.5 331.8h0M597.9 336.8h0M495.6 418.7h0M458 448.3h0M521.6 398.2h0M496.3 417.2h0M518.9 400.8h0M455.6 451.9h0M468.3 440.7h0M502.4 414.7h0M497.2 418.5h0M500.3 413.6h0M490.9 421.8h0M568.3 359.4h0M549.1 376.9h0M501.4 414.5h0M523.9 396.2h0M489.5 425.8h0M593.8 340h0M568.4 360.1h0M502.6 414.2h0M455.1 451h0M585.6 347.2h0M530 391.6h0" stroke="#0a45a6" stroke-width="2.4" stroke-linecap="round" fill="none"/>
<path d="M546.5 378.8h0M607.7 328.1h0M591.4 341.8h0M566.8 362h0M600.1 334.6h0M546 379.8h0M599.9 336.1h0M468.7 440.9h0M551.1 374h0M472.2 436.2h0M457.2 450.9h0M583.6 348h0M503.4 412.5h0M458.1 450.2h0M464.9 442.9h0M521.5 398.6h0M505.4 411.8h0M544.6 380.4h0M522.5 397.1h0M524.8 396.1h0M501.6 413.2h0M548.8 375.1h0M485 428.4h0M529.1 390.9h0M473.5 438.1h0M502.8 412.1h0M460.6 446.8h0M477.6 433.1h0M548.9 376.7h0M541.9 381.4h0M488.3 426h0M515.2 403.2h0M610.5 326.7h0M494.8 419.8h0M455.5 453.9h0M588.8 343.8h0M504.4 412.4h0M523.3 396.3h0M558.7 368.3h0M539.5 383.8h0M476.5 433.1h0M607.6 328.7h0M476 434.2h0M478.8 431.7h0M485.1 427h0M518.1 401.8h0M589.6 343.4h0M554.8 370.2h0M470.7 436.4h0M548.8 375.7h0M518.6 399.3h0M537.1 385.9h0M471.1 439.3h0M570.2 359.2h0M589.4 343.7h0M532.4 391h0M534.1 388.7h0M510.8 405.3h0M558.9 368.4h0M578.4 352.6h0M542.9 380.8h0M488.5 424h0M501.1 414.8h0M516.3 401.6h0M592.7 341.4h0M610.3 327.4h0M460.4 446.6h0M501.2 414.4h0M551.9 373.9h0M567 361.7h0M476.1 434.6h0M561.9 366.2h0M483.3 428.5h0M504.7 411.5h0M580.8 351.8h0M483.2 428.5h0M591.1 340.8h0M518.1 400.2h0M497.7 416.6h0M466 442.2h0M483.4 428.7h0M460.6 447.4h0M557.7 369.4h0M507.1 409.6h0M566.8 361.5h0M603.3 332.2h0M545.2 378.7h0M473.8 434.6h0M555.1 371.6h0M479.9 432.3h0M461.9 447h0M524.1 394.8h0M595.9 338.1h0M534.1 389.5h0M560.5 366.8h0M481.9 430.9h0M484.7 427.5h0M610.2 326.5h0M603.5 331.8h0M597.9 336.8h0M495.6 418.7h0M458 448.3h0M521.6 398.2h0M496.3 417.2h0M518.9 400.8h0M455.6 451.9h0M468.3 440.7h0M502.4 414.7h0M497.2 418.5h0M500.3 413.6h0M490.9 421.8h0M568.3 359.4h0M549.1 376.9h0M501.4 414.5h0M523.9 396.2h0M489.5 425.8h0M593.8 340h0M568.4 360.1h0M502.6 414.2h0M455.1 451h0M585.6 347.2h0M530 391.6h0" stroke="#1678d8" stroke-width="1.5" stroke-linecap="round" fill="none"/>
</g>
<rect x="404" y="279.5" width="265" height="213.2" fill="none" stroke="#000" stroke-width="1.7"/>
<path d="M457 492.7v-3.5M510 492.7v-3.5M563 492.7v-3.5M616 492.7v-3.5M404 450.1h3.5M404 407.4h3.5M404 364.8h3.5M404 322.1h3.5" stroke="#000" stroke-width="1.5" fill="none"/>
<text class="t" font-size="12.3" x="404" y="511.6" text-anchor="middle">-150</text>
<text class="t" font-size="12.3" x="457" y="511.6" text-anchor="middle">-100</text>
<text class="t" font-size="12.3" x="510" y="511.6" text-anchor="middle">-50</text>
<text class="t" font-size="12.3" x="563" y="511.6" text-anchor="middle">0</text>
<text class="t" font-size="12.3" x="616" y="511.6" text-anchor="middle">50</text>
<text class="t" font-size="12.3" x="669" y="511.6" text-anchor="middle">100</text>
<text class="t" font-size="12.3" x="393" y="496.7" text-anchor="end">-150</text>
<text class="t" font-size="12.3" x="393" y="454.1" text-anchor="end">-100</text>
<text class="t" font-size="12.3" x="393" y="411.4" text-anchor="end">-50</text>
<text class="t" font-size="12.3" x="393" y="368.8" text-anchor="end">0</text>
<text class="t" font-size="12.3" x="393" y="326.1" text-anchor="end">50</text>
<text class="t" font-size="12.3" x="393" y="283.5" text-anchor="end">100</text>
<text class="b" font-size="12.3" x="547.7" y="528" text-anchor="middle">Observed OHC (ZJ)</text>
<text class="b" font-size="12.3" transform="translate(364.1 372) rotate(-90)" text-anchor="middle">Predicted OHC (ZJ)</text>
<text class="l" font-size="12.3" x="415" y="298">d)</text>
<line x1="594" y1="462.5" x2="629" y2="462.5" stroke="#111" stroke-width="2" stroke-dasharray="3.8 2.1"/>
<text class="b" font-size="12.3" x="632" y="466.9">± 10</text>
<text class="b" font-size="12.3" x="594" y="480.8">R<tspan font-size="9.6" dy="-3.6">2</tspan><tspan dy="3.6">=0.9992</tspan></text>
</g>
<g id="panel-e">
<clipPath id="ce"><rect x="329.5" y="566" width="274.5" height="220.6"/></clipPath>
<g clip-path="url(#ce)">
<line x1="329.5" y1="786.6" x2="604" y2="566" stroke="#e50a0e" stroke-width="2.2"/>
<line x1="329.5" y1="775.6" x2="604" y2="577" stroke="#16100c" stroke-width="1.8" stroke-dasharray="4.8 3.8"/>
<line x1="329.5" y1="797.6" x2="604" y2="555" stroke="#16100c" stroke-width="1.8" stroke-dasharray="4.8 3.8"/>
<path d="M500 649.2h0M525.8 630.4h0M505.7 644h0M454.3 686.3h0M522.5 630.7h0M502.5 647.9h0M405.6 726.3h0M536.1 619.5h0M543.8 612h0M408.2 722.1h0M466.2 676.3h0M493.7 654.9h0M410.8 720.8h0M407.5 723.5h0M535 623.8h0M401.2 731.4h0M425.2 710.2h0M532.1 623.4h0M457.3 685.9h0M541 617h0M401.8 729.6h0M411.8 721.7h0M400.4 729.8h0M403.3 727.1h0M421.9 712.3h0M440.3 697.2h0M406.8 730.1h0M529.5 628.8h0M443.6 694.4h0M521.1 630.8h0" stroke="#0a45a6" stroke-width="2.4" stroke-linecap="round" fill="none"/>
<path d="M500 649.2h0M525.8 630.4h0M505.7 644h0M454.3 686.3h0M522.5 630.7h0M502.5 647.9h0M405.6 726.3h0M536.1 619.5h0M543.8 612h0M408.2 722.1h0M466.2 676.3h0M493.7 654.9h0M410.8 720.8h0M407.5 723.5h0M535 623.8h0M401.2 731.4h0M425.2 710.2h0M532.1 623.4h0M457.3 685.9h0M541 617h0M401.8 729.6h0M411.8 721.7h0M400.4 729.8h0M403.3 727.1h0M421.9 712.3h0M440.3 697.2h0M406.8 730.1h0M529.5 628.8h0M443.6 694.4h0M521.1 630.8h0" stroke="#1678d8" stroke-width="1.5" stroke-linecap="round" fill="none"/>
<path d="M406.2 724.8h0M440.2 697.6h0M405.1 733.7h0M433.4 703.8h0M471.1 672.3h0M456.4 684.9h0M420.8 714.3h0M410.5 718.2h0M402.2 723.6h0M411.7 716.8h0M411.4 720.1h0M414.6 717.2h0M529.8 626.2h0M405.8 727.2h0M411.8 720.3h0M453 686.8h0M401.7 729.9h0M405.3 727.4h0M530.4 624.9h0M546.7 612.9h0M423.6 712.2h0M500.1 650.3h0M447.5 690.9h0M494.8 651.9h0M398.6 730.6h0M405 724h0M530.8 625.5h0M405.6 727.8h0M408.3 722.3h0M401.2 727.4h0" stroke="#0a45a6" stroke-width="2.4" stroke-linecap="round" fill="none"/>
<path d="M406.2 724.8h0M440.2 697.6h0M405.1 733.7h0M433.4 703.8h0M471.1 672.3h0M456.4 684.9h0M420.8 714.3h0M410.5 718.2h0M402.2 723.6h0M411.7 716.8h0M411.4 720.1h0M414.6 717.2h0M529.8 626.2h0M405.8 727.2h0M411.8 720.3h0M453 686.8h0M401.7 729.9h0M405.3 727.4h0M530.4 624.9h0M546.7 612.9h0M423.6 712.2h0M500.1 650.3h0M447.5 690.9h0M494.8 651.9h0M398.6 730.6h0M405 724h0M530.8 625.5h0M405.6 727.8h0M408.3 722.3h0M401.2 727.4h0" stroke="#1678d8" stroke-width="1.5" stroke-linecap="round" fill="none"/>
<path d="M401.8 728.3h0M400.9 730.5h0M410.9 720.6h0M487.5 658.6h0M496.7 651.9h0M402.2 727.9h0M457.2 682.9h0M413.2 720.6h0M412.5 720.3h0M432.9 703.7h0M400.5 732.1h0M423.7 710.6h0M407.2 726.7h0M408.7 723.8h0M547.4 609.4h0M455.5 685h0M546.9 612.2h0M411.1 719.5h0M443.9 694.6h0M444.9 693.1h0M547.2 611h0M514.9 637.2h0M402.2 723.9h0M423.1 709.9h0M537.9 618.5h0M546.3 613.4h0M403.9 725.7h0M486.8 661.1h0M443.2 694.8h0M405 725.4h0" stroke="#0a45a6" stroke-width="2.4" stroke-linecap="round" fill="none"/>
<path d="M401.8 728.3h0M400.9 730.5h0M410.9 720.6h0M487.5 658.6h0M496.7 651.9h0M402.2 727.9h0M457.2 682.9h0M413.2 720.6h0M412.5 720.3h0M432.9 703.7h0M400.5 732.1h0M423.7 710.6h0M407.2 726.7h0M408.7 723.8h0M547.4 609.4h0M455.5 685h0M546.9 612.2h0M411.1 719.5h0M443.9 694.6h0M444.9 693.1h0M547.2 611h0M514.9 637.2h0M402.2 723.9h0M423.1 709.9h0M537.9 618.5h0M546.3 613.4h0M403.9 725.7h0M486.8 661.1h0M443.2 694.8h0M405 725.4h0" stroke="#1678d8" stroke-width="1.5" stroke-linecap="round" fill="none"/>
<path d="M471.6 672.4h0M406.1 722.4h0M502.3 649h0M521.1 631.1h0M404.7 724.9h0M398.7 730.7h0M403.4 725.6h0M532.1 623.3h0M447.3 691.2h0M443.8 692.9h0M440.3 696.2h0M405.2 727.2h0M515.3 637h0M494.6 653.5h0M412.7 720.7h0M518.9 634.7h0M401 730.7h0M411.4 723h0M489.9 658.7h0M499.5 649.5h0M400.8 727.7h0M397.3 730.9h0M535.3 621.1h0M412.8 719.1h0M490.6 658.9h0M452.6 687.4h0M492.3 656.4h0M400.1 731.4h0M529.7 625.6h0M448.9 690.8h0" stroke="#0a45a6" stroke-width="2.4" stroke-linecap="round" fill="none"/>
<path d="M471.6 672.4h0M406.1 722.4h0M502.3 649h0M521.1 631.1h0M404.7 724.9h0M398.7 730.7h0M403.4 725.6h0M532.1 623.3h0M447.3 691.2h0M443.8 692.9h0M440.3 696.2h0M405.2 727.2h0M515.3 637h0M494.6 653.5h0M412.7 720.7h0M518.9 634.7h0M401 730.7h0M411.4 723h0M489.9 658.7h0M499.5 649.5h0M400.8 727.7h0M397.3 730.9h0M535.3 621.1h0M412.8 719.1h0M490.6 658.9h0M452.6 687.4h0M492.3 656.4h0M400.1 731.4h0M529.7 625.6h0M448.9 690.8h0" stroke="#1678d8" stroke-width="1.5" stroke-linecap="round" fill="none"/>
<path d="M416.1 719.1h0M530.1 626.1h0M404.7 725.4h0M516 636.7h0M407.1 725.8h0M521.4 632.5h0M533.1 624.8h0M543.7 613.1h0M399.5 729.2h0M490 657.3h0M466.3 675.5h0M451.1 690.2h0M417.4 715.7h0M495.6 653.1h0M399.5 731.1h0M469.8 673.7h0M404.8 727.2h0M497.3 651.4h0M546.1 611.1h0M427.3 707.3h0M520.4 633.5h0M458.5 682.8h0M403 727.2h0M397.7 730.6h0M410.9 724.1h0M407.1 729h0M445.7 692.8h0M448.4 689.4h0M471.3 672.6h0M405.2 730.6h0" stroke="#0a45a6" stroke-width="2.4" stroke-linecap="round" fill="none"/>
<path d="M416.1 719.1h0M530.1 626.1h0M404.7 725.4h0M516 636.7h0M407.1 725.8h0M521.4 632.5h0M533.1 624.8h0M543.7 613.1h0M399.5 729.2h0M490 657.3h0M466.3 675.5h0M451.1 690.2h0M417.4 715.7h0M495.6 653.1h0M399.5 731.1h0M469.8 673.7h0M404.8 727.2h0M497.3 651.4h0M546.1 611.1h0M427.3 707.3h0M520.4 633.5h0M458.5 682.8h0M403 727.2h0M397.7 730.6h0M410.9 724.1h0M407.1 729h0M445.7 692.8h0M448.4 689.4h0M471.3 672.6h0M405.2 730.6h0" stroke="#1678d8" stroke-width="1.5" stroke-linecap="round" fill="none"/>
</g>
<rect x="329.5" y="566" width="274.5" height="220.6" fill="none" stroke="#000" stroke-width="1.7"/>
<path d="M398.1 786.6v-3.5M466.8 786.6v-3.5M535.4 786.6v-3.5M329.5 731.5h3.5M329.5 676.3h3.5M329.5 621.1h3.5" stroke="#000" stroke-width="1.5" fill="none"/>
<text class="t" font-size="12.74" x="329.5" y="805.6" text-anchor="middle">-50</text>
<text class="t" font-size="12.74" x="398.1" y="805.6" text-anchor="middle">-25</text>
<text class="t" font-size="12.74" x="466.8" y="805.6" text-anchor="middle">0</text>
<text class="t" font-size="12.74" x="535.4" y="805.6" text-anchor="middle">25</text>
<text class="t" font-size="12.74" x="604" y="805.6" text-anchor="middle">50</text>
<text class="t" font-size="12.74" x="318" y="790.8" text-anchor="end">-50</text>
<text class="t" font-size="12.74" x="318" y="735.6" text-anchor="end">-25</text>
<text class="t" font-size="12.74" x="318" y="680.5" text-anchor="end">0</text>
<text class="t" font-size="12.74" x="318" y="625.3" text-anchor="end">25</text>
<text class="t" font-size="12.74" x="318" y="570.2" text-anchor="end">50</text>
<text class="b" font-size="12.74" x="478.1" y="822.6" text-anchor="middle">Observed OHC (ZJ)</text>
<text class="b" font-size="12.74" transform="translate(288.2 661.2) rotate(-90)" text-anchor="middle">Predicted OHC (ZJ)</text>
<text class="l" font-size="12.74" x="338" y="581">e)</text>
<line x1="536" y1="761" x2="571" y2="761" stroke="#111" stroke-width="2" stroke-dasharray="3.8 2.1"/>
<text class="b" font-size="12.74" x="575.5" y="765.6">± 10</text>
<text class="b" font-size="12.74" x="536" y="779.5">R<tspan font-size="9.94" dy="-3.6">2</tspan><tspan dy="3.6">=0.9986</tspan></text>
</g>
</g>
</svg></body></html>
